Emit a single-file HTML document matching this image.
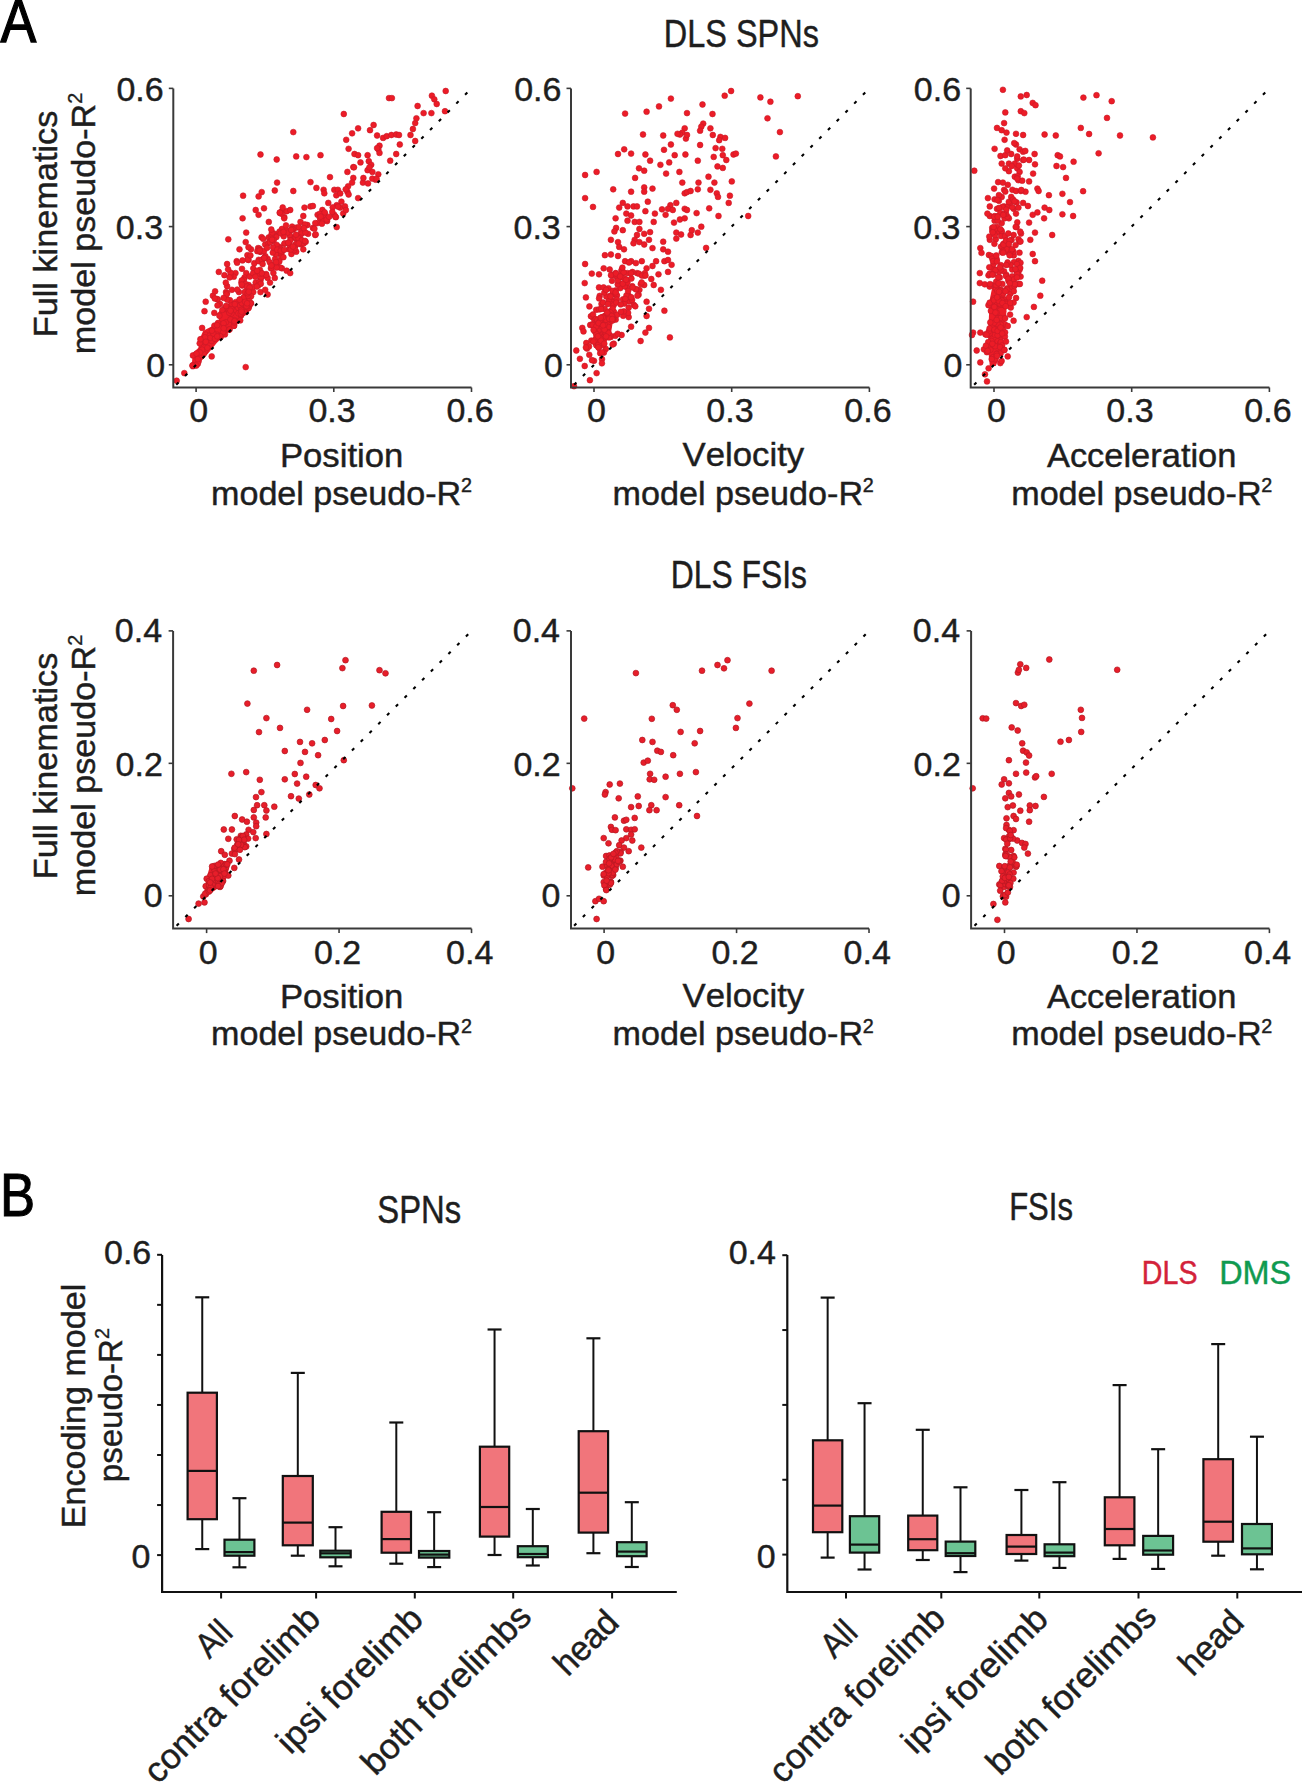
<!DOCTYPE html>
<html><head><meta charset="utf-8"><style>
html,body{margin:0;padding:0;background:#fff;overflow:hidden}
svg{display:block}
text{font-family:"Liberation Sans",sans-serif;font-kerning:none;white-space:pre}
</style></head><body>
<svg width="1302" height="1786" viewBox="0 0 1302 1786">
<rect width="1302" height="1786" fill="#fff"/>
<text x="0.50" y="41.80" font-size="61" textLength="35.81" lengthAdjust="spacingAndGlyphs" fill="#000" stroke="#000" stroke-width="1.3">A</text>
<text x="663.74" y="46.80" font-size="38.5" textLength="155.14" lengthAdjust="spacingAndGlyphs" fill="#1e1e1e" stroke="#1e1e1e" stroke-width="0.45">DLS SPNs</text>
<text x="670.69" y="587.90" font-size="38.5" textLength="136.26" lengthAdjust="spacingAndGlyphs" fill="#1e1e1e" stroke="#1e1e1e" stroke-width="0.45">DLS FSIs</text>
<text x="-0.02" y="1215.60" font-size="61" textLength="35.09" lengthAdjust="spacingAndGlyphs" fill="#000" stroke="#000" stroke-width="1.1">B</text>
<text x="377.31" y="1223.00" font-size="38.5" textLength="83.88" lengthAdjust="spacingAndGlyphs" fill="#1e1e1e" stroke="#1e1e1e" stroke-width="0.45">SPNs</text>
<text x="1009.15" y="1219.60" font-size="38.5" textLength="63.87" lengthAdjust="spacingAndGlyphs" fill="#1e1e1e" stroke="#1e1e1e" stroke-width="0.45">FSIs</text>
<g fill="#ec1c27" stroke="#c81a27" stroke-width="0.6">
<path d="M191.5 369.5 L192.7 352.9 L198.3 348.0 L200.1 338.1 L203.2 330.8 L210.6 327.1 L219.2 321.6 L217.3 313.6 L221.6 308.6 L227.8 303.7 L233.9 301.3 L242.5 296.4 L248.6 298.8 L253.6 303.7 L251.1 309.9 L243.7 316.0 L238.8 323.4 L231.4 328.3 L224.1 335.7 L216.7 343.1 L210.6 350.4 L204.4 357.8 L198.3 364.0Z" stroke="none"/>
<circle cx="445.7" cy="91.0" r="2.9"/>
<circle cx="431.9" cy="95.7" r="2.9"/>
<circle cx="434.3" cy="99.3" r="2.9"/>
<circle cx="436.7" cy="104.0" r="2.9"/>
<circle cx="389.0" cy="98.1" r="2.9"/>
<circle cx="391.9" cy="98.1" r="2.9"/>
<circle cx="417.6" cy="106.0" r="2.9"/>
<circle cx="423.6" cy="113.1" r="2.9"/>
<circle cx="431.4" cy="113.1" r="2.9"/>
<circle cx="445.0" cy="111.2" r="2.9"/>
<circle cx="343.8" cy="114.0" r="2.9"/>
<circle cx="373.6" cy="125.0" r="2.9"/>
<circle cx="370.0" cy="130.2" r="2.9"/>
<circle cx="358.1" cy="128.3" r="2.9"/>
<circle cx="352.1" cy="133.3" r="2.9"/>
<circle cx="346.2" cy="139.8" r="2.9"/>
<circle cx="377.1" cy="135.5" r="2.9"/>
<circle cx="383.1" cy="137.9" r="2.9"/>
<circle cx="386.7" cy="136.2" r="2.9"/>
<circle cx="391.4" cy="135.0" r="2.9"/>
<circle cx="396.2" cy="134.5" r="2.9"/>
<circle cx="399.0" cy="135.0" r="2.9"/>
<circle cx="410.5" cy="135.0" r="2.9"/>
<circle cx="412.9" cy="129.0" r="2.9"/>
<circle cx="415.2" cy="123.1" r="2.9"/>
<circle cx="416.4" cy="118.3" r="2.9"/>
<circle cx="415.2" cy="141.0" r="2.9"/>
<circle cx="399.8" cy="144.5" r="2.9"/>
<circle cx="396.2" cy="154.0" r="2.9"/>
<circle cx="390.2" cy="160.7" r="2.9"/>
<circle cx="379.5" cy="145.7" r="2.9"/>
<circle cx="378.3" cy="149.3" r="2.9"/>
<circle cx="379.5" cy="152.9" r="2.9"/>
<circle cx="377.1" cy="148.1" r="2.9"/>
<circle cx="348.6" cy="148.8" r="2.9"/>
<circle cx="354.5" cy="154.0" r="2.9"/>
<circle cx="358.1" cy="155.2" r="2.9"/>
<circle cx="367.6" cy="155.2" r="2.9"/>
<circle cx="368.8" cy="161.2" r="2.9"/>
<circle cx="360.5" cy="162.4" r="2.9"/>
<circle cx="293.3" cy="132.1" r="2.9"/>
<circle cx="260.5" cy="154.5" r="2.9"/>
<circle cx="276.7" cy="159.5" r="2.9"/>
<circle cx="296.2" cy="156.4" r="2.9"/>
<circle cx="306.4" cy="157.1" r="2.9"/>
<circle cx="320.5" cy="155.2" r="2.9"/>
<circle cx="353.3" cy="167.1" r="2.9"/>
<circle cx="347.4" cy="171.9" r="2.9"/>
<circle cx="371.2" cy="164.8" r="2.9"/>
<circle cx="367.6" cy="170.2" r="2.9"/>
<circle cx="372.4" cy="171.9" r="2.9"/>
<circle cx="378.3" cy="174.3" r="2.9"/>
<circle cx="353.3" cy="177.9" r="2.9"/>
<circle cx="352.1" cy="182.6" r="2.9"/>
<circle cx="362.9" cy="182.6" r="2.9"/>
<circle cx="330.0" cy="177.1" r="2.9"/>
<circle cx="310.5" cy="182.1" r="2.9"/>
<circle cx="316.4" cy="187.9" r="2.9"/>
<circle cx="323.6" cy="189.8" r="2.9"/>
<circle cx="324.3" cy="193.3" r="2.9"/>
<circle cx="334.3" cy="189.8" r="2.9"/>
<circle cx="337.9" cy="189.8" r="2.9"/>
<circle cx="347.4" cy="191.7" r="2.9"/>
<circle cx="348.6" cy="194.5" r="2.9"/>
<circle cx="358.1" cy="198.1" r="2.9"/>
<circle cx="277.1" cy="182.6" r="2.9"/>
<circle cx="274.8" cy="190.5" r="2.9"/>
<circle cx="293.3" cy="191.0" r="2.9"/>
<circle cx="261.7" cy="192.1" r="2.9"/>
<circle cx="258.6" cy="196.4" r="2.9"/>
<circle cx="243.1" cy="195.7" r="2.9"/>
<circle cx="341.4" cy="201.7" r="2.9"/>
<circle cx="340.2" cy="207.6" r="2.9"/>
<circle cx="334.3" cy="214.8" r="2.9"/>
<circle cx="328.3" cy="202.9" r="2.9"/>
<circle cx="322.4" cy="210.0" r="2.9"/>
<circle cx="336.7" cy="205.2" r="2.9"/>
<circle cx="345.0" cy="206.4" r="2.9"/>
<circle cx="255.7" cy="210.0" r="2.9"/>
<circle cx="258.6" cy="214.8" r="2.9"/>
<circle cx="264.0" cy="208.3" r="2.9"/>
<circle cx="242.6" cy="218.3" r="2.9"/>
<circle cx="281.9" cy="211.2" r="2.9"/>
<circle cx="286.7" cy="211.2" r="2.9"/>
<circle cx="290.2" cy="210.0" r="2.9"/>
<circle cx="284.3" cy="217.1" r="2.9"/>
<circle cx="304.5" cy="207.6" r="2.9"/>
<circle cx="310.5" cy="206.4" r="2.9"/>
<circle cx="312.9" cy="206.0" r="2.9"/>
<circle cx="300.5" cy="221.9" r="2.9"/>
<circle cx="303.3" cy="216.0" r="2.9"/>
<circle cx="268.8" cy="221.9" r="2.9"/>
<circle cx="317.6" cy="214.8" r="2.9"/>
<circle cx="320.0" cy="218.3" r="2.9"/>
<circle cx="317.6" cy="223.1" r="2.9"/>
<circle cx="323.6" cy="220.7" r="2.9"/>
<circle cx="324.8" cy="213.6" r="2.9"/>
<circle cx="336.7" cy="227.1" r="2.9"/>
<circle cx="312.9" cy="227.9" r="2.9"/>
<circle cx="315.2" cy="235.0" r="2.9"/>
<circle cx="308.1" cy="233.8" r="2.9"/>
<circle cx="298.6" cy="236.2" r="2.9"/>
<circle cx="293.8" cy="237.4" r="2.9"/>
<circle cx="289.0" cy="232.6" r="2.9"/>
<circle cx="281.9" cy="229.0" r="2.9"/>
<circle cx="286.7" cy="230.2" r="2.9"/>
<circle cx="246.2" cy="232.6" r="2.9"/>
<circle cx="245.7" cy="242.1" r="2.9"/>
<circle cx="228.3" cy="239.3" r="2.9"/>
<circle cx="274.8" cy="233.8" r="2.9"/>
<circle cx="268.8" cy="237.4" r="2.9"/>
<circle cx="272.4" cy="241.0" r="2.9"/>
<circle cx="265.2" cy="244.5" r="2.9"/>
<circle cx="258.1" cy="248.1" r="2.9"/>
<circle cx="251.0" cy="249.3" r="2.9"/>
<circle cx="239.5" cy="249.3" r="2.9"/>
<circle cx="247.4" cy="255.2" r="2.9"/>
<circle cx="260.5" cy="251.7" r="2.9"/>
<circle cx="279.5" cy="246.9" r="2.9"/>
<circle cx="281.9" cy="251.7" r="2.9"/>
<circle cx="289.0" cy="249.3" r="2.9"/>
<circle cx="291.4" cy="254.0" r="2.9"/>
<circle cx="296.2" cy="251.7" r="2.9"/>
<circle cx="302.1" cy="242.1" r="2.9"/>
<circle cx="303.3" cy="249.3" r="2.9"/>
<circle cx="227.1" cy="264.0" r="2.9"/>
<circle cx="236.7" cy="261.2" r="2.9"/>
<circle cx="218.8" cy="271.9" r="2.9"/>
<circle cx="235.5" cy="273.1" r="2.9"/>
<circle cx="233.8" cy="276.7" r="2.9"/>
<circle cx="246.2" cy="273.1" r="2.9"/>
<circle cx="253.3" cy="268.3" r="2.9"/>
<circle cx="260.5" cy="261.2" r="2.9"/>
<circle cx="267.6" cy="258.8" r="2.9"/>
<circle cx="272.4" cy="266.0" r="2.9"/>
<circle cx="277.1" cy="266.0" r="2.9"/>
<circle cx="281.9" cy="268.3" r="2.9"/>
<circle cx="286.7" cy="270.7" r="2.9"/>
<circle cx="290.2" cy="273.1" r="2.9"/>
<circle cx="264.0" cy="275.5" r="2.9"/>
<circle cx="267.6" cy="277.9" r="2.9"/>
<circle cx="270.0" cy="282.6" r="2.9"/>
<circle cx="274.8" cy="277.9" r="2.9"/>
<circle cx="260.5" cy="280.2" r="2.9"/>
<circle cx="255.7" cy="282.6" r="2.9"/>
<circle cx="248.6" cy="285.0" r="2.9"/>
<circle cx="241.4" cy="282.6" r="2.9"/>
<circle cx="227.1" cy="286.2" r="2.9"/>
<circle cx="226.0" cy="292.1" r="2.9"/>
<circle cx="231.9" cy="289.8" r="2.9"/>
<circle cx="239.0" cy="292.1" r="2.9"/>
<circle cx="246.2" cy="294.5" r="2.9"/>
<circle cx="253.3" cy="292.1" r="2.9"/>
<circle cx="260.5" cy="292.1" r="2.9"/>
<circle cx="265.2" cy="289.8" r="2.9"/>
<circle cx="267.6" cy="294.5" r="2.9"/>
<circle cx="212.9" cy="295.7" r="2.9"/>
<circle cx="217.6" cy="299.3" r="2.9"/>
<circle cx="205.7" cy="301.7" r="2.9"/>
<circle cx="204.5" cy="311.2" r="2.9"/>
<circle cx="220.0" cy="304.0" r="2.9"/>
<circle cx="245.7" cy="367.1" r="2.9"/>
<circle cx="184.3" cy="373.1" r="2.9"/>
<circle cx="176.7" cy="380.7" r="2.9"/>
<circle cx="202.1" cy="327.9" r="2.9"/>
<circle cx="211.7" cy="356.4" r="2.9"/>
<circle cx="198.6" cy="361.2" r="2.9"/>
<circle cx="226.6" cy="308.2" r="2.9"/>
<circle cx="226.4" cy="309.1" r="2.9"/>
<circle cx="225.9" cy="322.3" r="2.9"/>
<circle cx="251.0" cy="303.1" r="2.9"/>
<circle cx="236.1" cy="310.3" r="2.9"/>
<circle cx="205.9" cy="334.7" r="2.9"/>
<circle cx="241.6" cy="313.4" r="2.9"/>
<circle cx="245.7" cy="312.2" r="2.9"/>
<circle cx="203.0" cy="339.4" r="2.9"/>
<circle cx="225.0" cy="307.9" r="2.9"/>
<circle cx="235.7" cy="302.1" r="2.9"/>
<circle cx="211.7" cy="341.0" r="2.9"/>
<circle cx="204.0" cy="352.6" r="2.9"/>
<circle cx="224.9" cy="334.4" r="2.9"/>
<circle cx="222.3" cy="309.9" r="2.9"/>
<circle cx="234.5" cy="320.2" r="2.9"/>
<circle cx="203.6" cy="341.8" r="2.9"/>
<circle cx="209.7" cy="335.7" r="2.9"/>
<circle cx="241.1" cy="315.4" r="2.9"/>
<circle cx="218.0" cy="323.0" r="2.9"/>
<circle cx="234.1" cy="325.8" r="2.9"/>
<circle cx="219.4" cy="315.7" r="2.9"/>
<circle cx="228.9" cy="310.1" r="2.9"/>
<circle cx="240.2" cy="299.4" r="2.9"/>
<circle cx="242.3" cy="313.4" r="2.9"/>
<circle cx="204.3" cy="338.1" r="2.9"/>
<circle cx="217.0" cy="334.7" r="2.9"/>
<circle cx="239.8" cy="307.5" r="2.9"/>
<circle cx="240.0" cy="308.4" r="2.9"/>
<circle cx="250.6" cy="303.4" r="2.9"/>
<circle cx="205.3" cy="350.9" r="2.9"/>
<circle cx="201.6" cy="339.4" r="2.9"/>
<circle cx="201.4" cy="349.9" r="2.9"/>
<circle cx="244.2" cy="297.5" r="2.9"/>
<circle cx="203.6" cy="353.7" r="2.9"/>
<circle cx="214.4" cy="325.6" r="2.9"/>
<circle cx="210.4" cy="337.8" r="2.9"/>
<circle cx="202.1" cy="349.7" r="2.9"/>
<circle cx="193.0" cy="365.1" r="2.9"/>
<circle cx="204.0" cy="342.1" r="2.9"/>
<circle cx="204.9" cy="337.4" r="2.9"/>
<circle cx="240.8" cy="314.8" r="2.9"/>
<circle cx="240.2" cy="320.4" r="2.9"/>
<circle cx="233.9" cy="325.8" r="2.9"/>
<circle cx="248.4" cy="308.0" r="2.9"/>
<circle cx="217.1" cy="325.1" r="2.9"/>
<circle cx="205.8" cy="341.8" r="2.9"/>
<circle cx="238.1" cy="307.8" r="2.9"/>
<circle cx="230.5" cy="319.5" r="2.9"/>
<circle cx="228.8" cy="329.9" r="2.9"/>
<circle cx="200.0" cy="352.5" r="2.9"/>
<circle cx="241.0" cy="306.1" r="2.9"/>
<circle cx="238.4" cy="313.3" r="2.9"/>
<circle cx="223.1" cy="332.3" r="2.9"/>
<circle cx="240.0" cy="305.5" r="2.9"/>
<circle cx="231.4" cy="313.6" r="2.9"/>
<circle cx="249.0" cy="299.8" r="2.9"/>
<circle cx="240.7" cy="313.5" r="2.9"/>
<circle cx="215.0" cy="338.8" r="2.9"/>
<circle cx="193.0" cy="366.2" r="2.9"/>
<circle cx="192.9" cy="355.4" r="2.9"/>
<circle cx="220.8" cy="336.8" r="2.9"/>
<circle cx="226.1" cy="306.0" r="2.9"/>
<circle cx="247.4" cy="306.4" r="2.9"/>
<circle cx="207.4" cy="347.8" r="2.9"/>
<circle cx="223.6" cy="323.3" r="2.9"/>
<circle cx="197.8" cy="363.8" r="2.9"/>
<circle cx="231.3" cy="308.8" r="2.9"/>
<circle cx="241.4" cy="309.9" r="2.9"/>
<circle cx="229.6" cy="329.4" r="2.9"/>
<circle cx="213.3" cy="333.5" r="2.9"/>
<circle cx="196.3" cy="365.6" r="2.9"/>
<circle cx="241.5" cy="311.7" r="2.9"/>
<circle cx="199.7" cy="343.3" r="2.9"/>
<circle cx="242.9" cy="303.9" r="2.9"/>
<circle cx="192.4" cy="365.6" r="2.9"/>
<circle cx="243.8" cy="297.3" r="2.9"/>
<circle cx="229.3" cy="312.8" r="2.9"/>
<circle cx="231.7" cy="303.7" r="2.9"/>
<circle cx="211.9" cy="330.7" r="2.9"/>
<circle cx="234.1" cy="322.5" r="2.9"/>
<circle cx="220.2" cy="336.3" r="2.9"/>
<circle cx="223.7" cy="328.2" r="2.9"/>
<circle cx="217.2" cy="336.4" r="2.9"/>
<circle cx="196.5" cy="353.6" r="2.9"/>
<circle cx="234.5" cy="321.2" r="2.9"/>
<circle cx="197.8" cy="359.1" r="2.9"/>
<circle cx="250.5" cy="303.5" r="2.9"/>
<circle cx="200.4" cy="339.2" r="2.9"/>
<circle cx="230.5" cy="310.7" r="2.9"/>
<circle cx="249.9" cy="287.7" r="2.9"/>
<circle cx="276.2" cy="246.8" r="2.9"/>
<circle cx="278.4" cy="252.6" r="2.9"/>
<circle cx="244.5" cy="277.5" r="2.9"/>
<circle cx="258.7" cy="259.8" r="2.9"/>
<circle cx="281.1" cy="254.3" r="2.9"/>
<circle cx="262.6" cy="259.3" r="2.9"/>
<circle cx="280.3" cy="267.6" r="2.9"/>
<circle cx="259.5" cy="282.0" r="2.9"/>
<circle cx="270.9" cy="268.3" r="2.9"/>
<circle cx="254.3" cy="263.2" r="2.9"/>
<circle cx="261.2" cy="277.4" r="2.9"/>
<circle cx="271.7" cy="268.0" r="2.9"/>
<circle cx="258.4" cy="285.2" r="2.9"/>
<circle cx="276.6" cy="267.5" r="2.9"/>
<circle cx="249.9" cy="276.5" r="2.9"/>
<circle cx="301.2" cy="244.4" r="2.9"/>
<circle cx="247.3" cy="289.4" r="2.9"/>
<circle cx="273.4" cy="273.0" r="2.9"/>
<circle cx="295.4" cy="245.8" r="2.9"/>
<circle cx="296.5" cy="237.9" r="2.9"/>
<circle cx="290.5" cy="237.4" r="2.9"/>
<circle cx="296.7" cy="239.0" r="2.9"/>
<circle cx="275.1" cy="258.9" r="2.9"/>
<circle cx="297.9" cy="242.5" r="2.9"/>
<circle cx="281.1" cy="257.6" r="2.9"/>
<circle cx="258.6" cy="261.2" r="2.9"/>
<circle cx="261.9" cy="259.9" r="2.9"/>
<circle cx="275.9" cy="254.1" r="2.9"/>
<circle cx="295.6" cy="244.6" r="2.9"/>
<circle cx="295.6" cy="237.6" r="2.9"/>
<circle cx="283.4" cy="257.2" r="2.9"/>
<circle cx="262.6" cy="264.1" r="2.9"/>
<circle cx="294.3" cy="250.1" r="2.9"/>
<circle cx="243.9" cy="279.7" r="2.9"/>
<circle cx="241.8" cy="280.4" r="2.9"/>
<circle cx="253.1" cy="273.3" r="2.9"/>
<circle cx="252.9" cy="287.2" r="2.9"/>
<circle cx="291.4" cy="248.3" r="2.9"/>
<circle cx="242.3" cy="285.6" r="2.9"/>
<circle cx="294.7" cy="248.1" r="2.9"/>
<circle cx="245.4" cy="283.9" r="2.9"/>
<circle cx="280.3" cy="248.7" r="2.9"/>
<circle cx="272.8" cy="252.6" r="2.9"/>
<circle cx="247.0" cy="286.4" r="2.9"/>
<circle cx="289.7" cy="235.0" r="2.9"/>
<circle cx="268.4" cy="243.0" r="2.9"/>
<circle cx="276.6" cy="244.8" r="2.9"/>
<circle cx="273.1" cy="247.5" r="2.9"/>
<circle cx="292.1" cy="226.6" r="2.9"/>
<circle cx="283.1" cy="233.6" r="2.9"/>
<circle cx="287.5" cy="232.6" r="2.9"/>
<circle cx="275.0" cy="235.9" r="2.9"/>
<circle cx="276.4" cy="237.0" r="2.9"/>
<circle cx="259.8" cy="251.3" r="2.9"/>
<circle cx="271.1" cy="237.3" r="2.9"/>
<circle cx="293.2" cy="229.4" r="2.9"/>
<circle cx="279.5" cy="231.6" r="2.9"/>
<circle cx="286.0" cy="225.4" r="2.9"/>
<circle cx="296.4" cy="227.6" r="2.9"/>
<circle cx="298.9" cy="227.1" r="2.9"/>
<circle cx="260.3" cy="251.6" r="2.9"/>
<circle cx="270.0" cy="242.3" r="2.9"/>
<circle cx="266.1" cy="274.1" r="2.9"/>
<circle cx="284.4" cy="243.8" r="2.9"/>
<circle cx="290.4" cy="240.3" r="2.9"/>
<circle cx="260.8" cy="283.8" r="2.9"/>
<circle cx="241.9" cy="303.1" r="2.9"/>
<circle cx="271.8" cy="264.8" r="2.9"/>
<circle cx="279.3" cy="261.6" r="2.9"/>
<circle cx="277.2" cy="249.7" r="2.9"/>
<circle cx="290.0" cy="245.4" r="2.9"/>
<circle cx="229.9" cy="300.2" r="2.9"/>
<circle cx="251.1" cy="296.2" r="2.9"/>
<circle cx="284.7" cy="243.3" r="2.9"/>
<circle cx="301.1" cy="231.8" r="2.9"/>
<circle cx="283.7" cy="236.3" r="2.9"/>
<circle cx="266.2" cy="274.8" r="2.9"/>
<circle cx="264.7" cy="257.5" r="2.9"/>
<circle cx="239.5" cy="299.6" r="2.9"/>
<circle cx="269.8" cy="262.3" r="2.9"/>
<circle cx="292.5" cy="229.2" r="2.9"/>
<circle cx="276.1" cy="262.1" r="2.9"/>
<circle cx="248.2" cy="295.7" r="2.9"/>
<circle cx="237.2" cy="289.6" r="2.9"/>
<circle cx="241.8" cy="284.6" r="2.9"/>
<circle cx="261.4" cy="273.3" r="2.9"/>
<circle cx="258.9" cy="273.6" r="2.9"/>
<circle cx="255.4" cy="276.8" r="2.9"/>
<circle cx="244.8" cy="292.0" r="2.9"/>
<circle cx="245.2" cy="301.8" r="2.9"/>
<circle cx="301.7" cy="233.5" r="2.9"/>
<circle cx="247.7" cy="293.2" r="2.9"/>
<circle cx="296.4" cy="243.9" r="2.9"/>
<circle cx="234.8" cy="304.2" r="2.9"/>
<circle cx="259.9" cy="269.9" r="2.9"/>
<circle cx="246.5" cy="306.1" r="2.9"/>
<circle cx="288.2" cy="242.7" r="2.9"/>
<circle cx="261.8" cy="273.2" r="2.9"/>
<circle cx="257.1" cy="270.8" r="2.9"/>
<circle cx="271.4" cy="265.5" r="2.9"/>
<circle cx="249.6" cy="287.6" r="2.9"/>
<circle cx="265.3" cy="256.1" r="2.9"/>
<circle cx="256.9" cy="286.6" r="2.9"/>
<circle cx="264.2" cy="257.9" r="2.9"/>
<circle cx="248.7" cy="291.8" r="2.9"/>
<circle cx="280.7" cy="250.7" r="2.9"/>
<circle cx="247.1" cy="303.3" r="2.9"/>
<circle cx="248.6" cy="260.0" r="2.9"/>
<circle cx="242.0" cy="268.8" r="2.9"/>
<circle cx="217.4" cy="299.2" r="2.9"/>
<circle cx="273.7" cy="240.0" r="2.9"/>
<circle cx="214.8" cy="298.5" r="2.9"/>
<circle cx="215.1" cy="291.3" r="2.9"/>
<circle cx="214.3" cy="312.9" r="2.9"/>
<circle cx="230.5" cy="276.1" r="2.9"/>
<circle cx="271.6" cy="234.2" r="2.9"/>
<circle cx="227.0" cy="293.2" r="2.9"/>
<circle cx="230.5" cy="272.7" r="2.9"/>
<circle cx="261.6" cy="237.2" r="2.9"/>
<circle cx="227.2" cy="299.7" r="2.9"/>
<circle cx="248.5" cy="247.2" r="2.9"/>
<circle cx="263.2" cy="238.8" r="2.9"/>
<circle cx="259.5" cy="248.6" r="2.9"/>
<circle cx="224.4" cy="275.2" r="2.9"/>
<circle cx="260.3" cy="250.2" r="2.9"/>
<circle cx="257.3" cy="251.2" r="2.9"/>
<circle cx="263.9" cy="251.2" r="2.9"/>
<circle cx="217.5" cy="305.4" r="2.9"/>
<circle cx="272.0" cy="239.8" r="2.9"/>
<circle cx="225.8" cy="282.7" r="2.9"/>
<circle cx="228.1" cy="269.3" r="2.9"/>
<circle cx="247.6" cy="259.5" r="2.9"/>
<circle cx="242.5" cy="260.4" r="2.9"/>
<circle cx="259.6" cy="250.6" r="2.9"/>
<circle cx="272.2" cy="232.6" r="2.9"/>
<circle cx="250.4" cy="255.4" r="2.9"/>
<circle cx="226.5" cy="294.5" r="2.9"/>
<circle cx="271.3" cy="229.5" r="2.9"/>
<circle cx="237.1" cy="262.7" r="2.9"/>
<circle cx="223.6" cy="297.9" r="2.9"/>
<circle cx="267.1" cy="247.8" r="2.9"/>
<circle cx="229.6" cy="277.4" r="2.9"/>
<circle cx="323.4" cy="215.3" r="2.9"/>
<circle cx="327.1" cy="221.1" r="2.9"/>
<circle cx="321.9" cy="223.7" r="2.9"/>
<circle cx="319.8" cy="213.8" r="2.9"/>
<circle cx="315.3" cy="223.1" r="2.9"/>
<circle cx="324.7" cy="212.4" r="2.9"/>
<circle cx="326.7" cy="219.6" r="2.9"/>
<circle cx="320.7" cy="216.6" r="2.9"/>
<circle cx="329.1" cy="216.8" r="2.9"/>
<circle cx="332.7" cy="207.3" r="2.9"/>
<circle cx="335.9" cy="217.2" r="2.9"/>
<circle cx="338.0" cy="206.6" r="2.9"/>
<circle cx="343.2" cy="213.5" r="2.9"/>
<circle cx="332.3" cy="211.9" r="2.9"/>
<circle cx="345.9" cy="210.0" r="2.9"/>
<circle cx="335.4" cy="216.7" r="2.9"/>
<circle cx="279.8" cy="212.9" r="2.9"/>
<circle cx="281.6" cy="213.8" r="2.9"/>
<circle cx="284.2" cy="218.3" r="2.9"/>
<circle cx="279.9" cy="212.5" r="2.9"/>
<circle cx="282.7" cy="207.5" r="2.9"/>
<circle cx="315.7" cy="234.4" r="2.9"/>
<circle cx="305.4" cy="232.5" r="2.9"/>
<circle cx="307.4" cy="225.0" r="2.9"/>
<circle cx="304.9" cy="224.5" r="2.9"/>
<circle cx="300.1" cy="237.6" r="2.9"/>
<circle cx="314.4" cy="228.7" r="2.9"/>
<circle cx="298.4" cy="238.1" r="2.9"/>
<circle cx="280.8" cy="233.3" r="2.9"/>
<circle cx="301.9" cy="243.2" r="2.9"/>
<circle cx="290.8" cy="249.4" r="2.9"/>
<circle cx="303.8" cy="243.3" r="2.9"/>
<circle cx="303.9" cy="228.1" r="2.9"/>
<circle cx="293.0" cy="246.6" r="2.9"/>
<circle cx="301.8" cy="240.3" r="2.9"/>
<circle cx="296.0" cy="234.7" r="2.9"/>
<circle cx="298.7" cy="243.4" r="2.9"/>
<circle cx="305.7" cy="241.8" r="2.9"/>
<circle cx="284.2" cy="249.8" r="2.9"/>
<circle cx="291.2" cy="229.9" r="2.9"/>
<circle cx="305.0" cy="240.9" r="2.9"/>
<circle cx="283.5" cy="232.0" r="2.9"/>
<circle cx="336.3" cy="195.3" r="2.9"/>
<circle cx="348.1" cy="186.3" r="2.9"/>
<circle cx="345.7" cy="189.3" r="2.9"/>
<circle cx="340.2" cy="193.4" r="2.9"/>
<circle cx="354.0" cy="167.3" r="2.9"/>
<circle cx="375.6" cy="179.7" r="2.9"/>
<circle cx="372.3" cy="178.6" r="2.9"/>
<circle cx="376.6" cy="178.9" r="2.9"/>
<circle cx="369.4" cy="167.3" r="2.9"/>
<circle cx="368.0" cy="183.4" r="2.9"/>
<circle cx="363.4" cy="178.0" r="2.9"/>
</g>
<g fill="#ec1c27" stroke="#c81a27" stroke-width="0.6">
<path d="M593.0 344.5 L593.7 325.5 L600.1 314.8 L609.7 310.0 L613.2 319.5 L610.9 333.8 L604.9 344.5 L597.8 351.7Z" stroke="none"/>
<circle cx="731.1" cy="91.0" r="2.9"/>
<circle cx="724.7" cy="95.7" r="2.9"/>
<circle cx="670.9" cy="98.6" r="2.9"/>
<circle cx="760.4" cy="97.4" r="2.9"/>
<circle cx="770.4" cy="101.7" r="2.9"/>
<circle cx="797.8" cy="96.2" r="2.9"/>
<circle cx="702.5" cy="104.5" r="2.9"/>
<circle cx="659.0" cy="106.4" r="2.9"/>
<circle cx="646.6" cy="111.7" r="2.9"/>
<circle cx="625.1" cy="113.6" r="2.9"/>
<circle cx="687.0" cy="113.1" r="2.9"/>
<circle cx="712.5" cy="114.0" r="2.9"/>
<circle cx="767.5" cy="118.3" r="2.9"/>
<circle cx="779.9" cy="132.1" r="2.9"/>
<circle cx="775.9" cy="156.4" r="2.9"/>
<circle cx="703.2" cy="123.6" r="2.9"/>
<circle cx="701.3" cy="126.7" r="2.9"/>
<circle cx="700.1" cy="130.7" r="2.9"/>
<circle cx="710.4" cy="128.3" r="2.9"/>
<circle cx="712.8" cy="135.0" r="2.9"/>
<circle cx="720.4" cy="136.9" r="2.9"/>
<circle cx="725.1" cy="137.9" r="2.9"/>
<circle cx="719.2" cy="140.2" r="2.9"/>
<circle cx="684.7" cy="128.3" r="2.9"/>
<circle cx="682.3" cy="132.6" r="2.9"/>
<circle cx="679.9" cy="134.5" r="2.9"/>
<circle cx="677.5" cy="133.8" r="2.9"/>
<circle cx="685.9" cy="138.6" r="2.9"/>
<circle cx="687.0" cy="135.0" r="2.9"/>
<circle cx="643.0" cy="134.5" r="2.9"/>
<circle cx="663.2" cy="135.5" r="2.9"/>
<circle cx="700.1" cy="145.0" r="2.9"/>
<circle cx="670.9" cy="144.5" r="2.9"/>
<circle cx="664.0" cy="149.8" r="2.9"/>
<circle cx="674.7" cy="155.2" r="2.9"/>
<circle cx="685.4" cy="154.5" r="2.9"/>
<circle cx="697.8" cy="160.7" r="2.9"/>
<circle cx="715.6" cy="148.1" r="2.9"/>
<circle cx="722.3" cy="148.8" r="2.9"/>
<circle cx="713.7" cy="156.9" r="2.9"/>
<circle cx="722.8" cy="155.2" r="2.9"/>
<circle cx="726.3" cy="160.0" r="2.9"/>
<circle cx="733.5" cy="154.5" r="2.9"/>
<circle cx="735.9" cy="153.6" r="2.9"/>
<circle cx="717.5" cy="166.4" r="2.9"/>
<circle cx="722.8" cy="167.9" r="2.9"/>
<circle cx="624.2" cy="149.3" r="2.9"/>
<circle cx="618.0" cy="154.0" r="2.9"/>
<circle cx="631.1" cy="153.6" r="2.9"/>
<circle cx="645.4" cy="154.5" r="2.9"/>
<circle cx="650.1" cy="160.7" r="2.9"/>
<circle cx="660.4" cy="164.8" r="2.9"/>
<circle cx="669.2" cy="162.4" r="2.9"/>
<circle cx="666.1" cy="173.6" r="2.9"/>
<circle cx="679.4" cy="171.9" r="2.9"/>
<circle cx="639.0" cy="168.3" r="2.9"/>
<circle cx="644.2" cy="170.7" r="2.9"/>
<circle cx="635.1" cy="177.9" r="2.9"/>
<circle cx="596.6" cy="171.9" r="2.9"/>
<circle cx="585.1" cy="175.0" r="2.9"/>
<circle cx="708.5" cy="176.7" r="2.9"/>
<circle cx="714.4" cy="182.6" r="2.9"/>
<circle cx="698.5" cy="182.6" r="2.9"/>
<circle cx="731.8" cy="181.4" r="2.9"/>
<circle cx="682.3" cy="182.6" r="2.9"/>
<circle cx="644.2" cy="187.4" r="2.9"/>
<circle cx="652.5" cy="188.6" r="2.9"/>
<circle cx="613.2" cy="189.3" r="2.9"/>
<circle cx="631.1" cy="191.7" r="2.9"/>
<circle cx="644.2" cy="191.7" r="2.9"/>
<circle cx="684.7" cy="193.3" r="2.9"/>
<circle cx="687.0" cy="192.1" r="2.9"/>
<circle cx="690.6" cy="191.0" r="2.9"/>
<circle cx="697.8" cy="189.3" r="2.9"/>
<circle cx="710.4" cy="189.8" r="2.9"/>
<circle cx="716.8" cy="193.3" r="2.9"/>
<circle cx="718.0" cy="196.9" r="2.9"/>
<circle cx="729.9" cy="195.7" r="2.9"/>
<circle cx="728.7" cy="202.9" r="2.9"/>
<circle cx="585.1" cy="198.1" r="2.9"/>
<circle cx="593.0" cy="206.9" r="2.9"/>
<circle cx="647.8" cy="201.7" r="2.9"/>
<circle cx="676.3" cy="202.9" r="2.9"/>
<circle cx="670.4" cy="205.2" r="2.9"/>
<circle cx="662.0" cy="209.3" r="2.9"/>
<circle cx="668.0" cy="208.8" r="2.9"/>
<circle cx="665.6" cy="214.8" r="2.9"/>
<circle cx="672.8" cy="210.0" r="2.9"/>
<circle cx="684.7" cy="208.8" r="2.9"/>
<circle cx="687.0" cy="210.0" r="2.9"/>
<circle cx="696.6" cy="213.1" r="2.9"/>
<circle cx="709.2" cy="208.3" r="2.9"/>
<circle cx="718.5" cy="216.0" r="2.9"/>
<circle cx="748.2" cy="216.0" r="2.9"/>
<circle cx="622.8" cy="202.9" r="2.9"/>
<circle cx="619.2" cy="207.6" r="2.9"/>
<circle cx="627.5" cy="206.4" r="2.9"/>
<circle cx="633.5" cy="206.4" r="2.9"/>
<circle cx="637.0" cy="206.4" r="2.9"/>
<circle cx="626.3" cy="213.6" r="2.9"/>
<circle cx="631.1" cy="215.5" r="2.9"/>
<circle cx="627.5" cy="220.7" r="2.9"/>
<circle cx="634.7" cy="221.9" r="2.9"/>
<circle cx="639.4" cy="221.9" r="2.9"/>
<circle cx="645.4" cy="211.2" r="2.9"/>
<circle cx="654.9" cy="213.6" r="2.9"/>
<circle cx="653.7" cy="221.9" r="2.9"/>
<circle cx="615.6" cy="218.3" r="2.9"/>
<circle cx="674.0" cy="222.6" r="2.9"/>
<circle cx="679.9" cy="219.5" r="2.9"/>
<circle cx="684.7" cy="218.3" r="2.9"/>
<circle cx="701.3" cy="226.7" r="2.9"/>
<circle cx="697.8" cy="232.6" r="2.9"/>
<circle cx="690.6" cy="235.0" r="2.9"/>
<circle cx="691.8" cy="230.2" r="2.9"/>
<circle cx="676.3" cy="232.6" r="2.9"/>
<circle cx="681.1" cy="234.5" r="2.9"/>
<circle cx="676.3" cy="238.6" r="2.9"/>
<circle cx="616.1" cy="227.9" r="2.9"/>
<circle cx="614.4" cy="231.4" r="2.9"/>
<circle cx="622.8" cy="230.2" r="2.9"/>
<circle cx="639.4" cy="229.0" r="2.9"/>
<circle cx="637.0" cy="235.0" r="2.9"/>
<circle cx="634.7" cy="239.8" r="2.9"/>
<circle cx="644.2" cy="233.8" r="2.9"/>
<circle cx="650.1" cy="232.1" r="2.9"/>
<circle cx="610.9" cy="239.8" r="2.9"/>
<circle cx="618.0" cy="242.1" r="2.9"/>
<circle cx="619.2" cy="246.9" r="2.9"/>
<circle cx="624.0" cy="249.3" r="2.9"/>
<circle cx="633.5" cy="243.3" r="2.9"/>
<circle cx="639.4" cy="242.1" r="2.9"/>
<circle cx="644.2" cy="244.5" r="2.9"/>
<circle cx="649.0" cy="239.8" r="2.9"/>
<circle cx="652.5" cy="248.1" r="2.9"/>
<circle cx="663.2" cy="241.7" r="2.9"/>
<circle cx="663.2" cy="249.3" r="2.9"/>
<circle cx="668.0" cy="251.7" r="2.9"/>
<circle cx="706.1" cy="247.9" r="2.9"/>
<circle cx="604.9" cy="255.2" r="2.9"/>
<circle cx="610.9" cy="254.5" r="2.9"/>
<circle cx="618.0" cy="256.0" r="2.9"/>
<circle cx="625.1" cy="261.2" r="2.9"/>
<circle cx="631.1" cy="261.2" r="2.9"/>
<circle cx="635.9" cy="263.1" r="2.9"/>
<circle cx="641.8" cy="261.2" r="2.9"/>
<circle cx="646.6" cy="268.3" r="2.9"/>
<circle cx="652.5" cy="266.0" r="2.9"/>
<circle cx="656.1" cy="261.2" r="2.9"/>
<circle cx="664.4" cy="261.2" r="2.9"/>
<circle cx="668.0" cy="260.0" r="2.9"/>
<circle cx="671.6" cy="264.8" r="2.9"/>
<circle cx="668.0" cy="271.9" r="2.9"/>
<circle cx="658.5" cy="274.3" r="2.9"/>
<circle cx="585.1" cy="264.0" r="2.9"/>
<circle cx="591.8" cy="273.6" r="2.9"/>
<circle cx="599.0" cy="274.3" r="2.9"/>
<circle cx="603.7" cy="268.3" r="2.9"/>
<circle cx="609.7" cy="269.5" r="2.9"/>
<circle cx="615.6" cy="273.1" r="2.9"/>
<circle cx="621.6" cy="270.7" r="2.9"/>
<circle cx="627.5" cy="273.1" r="2.9"/>
<circle cx="637.0" cy="273.1" r="2.9"/>
<circle cx="644.2" cy="275.5" r="2.9"/>
<circle cx="651.3" cy="279.0" r="2.9"/>
<circle cx="660.9" cy="289.8" r="2.9"/>
<circle cx="584.7" cy="283.1" r="2.9"/>
<circle cx="599.0" cy="287.4" r="2.9"/>
<circle cx="625.1" cy="282.6" r="2.9"/>
<circle cx="632.3" cy="286.2" r="2.9"/>
<circle cx="639.4" cy="289.8" r="2.9"/>
<circle cx="644.2" cy="285.0" r="2.9"/>
<circle cx="653.7" cy="285.0" r="2.9"/>
<circle cx="585.9" cy="297.4" r="2.9"/>
<circle cx="589.4" cy="306.4" r="2.9"/>
<circle cx="646.6" cy="301.7" r="2.9"/>
<circle cx="649.0" cy="308.8" r="2.9"/>
<circle cx="628.7" cy="307.6" r="2.9"/>
<circle cx="664.4" cy="310.7" r="2.9"/>
<circle cx="628.7" cy="317.1" r="2.9"/>
<circle cx="646.6" cy="316.0" r="2.9"/>
<circle cx="640.6" cy="341.0" r="2.9"/>
<circle cx="669.9" cy="337.4" r="2.9"/>
<circle cx="649.0" cy="327.9" r="2.9"/>
<circle cx="645.4" cy="332.6" r="2.9"/>
<circle cx="631.1" cy="326.7" r="2.9"/>
<circle cx="621.6" cy="335.0" r="2.9"/>
<circle cx="576.3" cy="350.5" r="2.9"/>
<circle cx="582.3" cy="327.9" r="2.9"/>
<circle cx="583.5" cy="331.4" r="2.9"/>
<circle cx="579.9" cy="358.8" r="2.9"/>
<circle cx="584.7" cy="366.0" r="2.9"/>
<circle cx="596.6" cy="373.1" r="2.9"/>
<circle cx="589.9" cy="380.2" r="2.9"/>
<circle cx="574.0" cy="386.2" r="2.9"/>
<circle cx="592.7" cy="317.2" r="2.9"/>
<circle cx="613.8" cy="343.7" r="2.9"/>
<circle cx="613.2" cy="294.4" r="2.9"/>
<circle cx="589.3" cy="354.8" r="2.9"/>
<circle cx="612.3" cy="300.6" r="2.9"/>
<circle cx="596.2" cy="309.8" r="2.9"/>
<circle cx="621.5" cy="284.1" r="2.9"/>
<circle cx="621.7" cy="276.5" r="2.9"/>
<circle cx="628.5" cy="295.5" r="2.9"/>
<circle cx="626.8" cy="287.1" r="2.9"/>
<circle cx="620.3" cy="288.1" r="2.9"/>
<circle cx="610.0" cy="296.0" r="2.9"/>
<circle cx="601.5" cy="303.9" r="2.9"/>
<circle cx="636.4" cy="289.3" r="2.9"/>
<circle cx="605.8" cy="348.9" r="2.9"/>
<circle cx="587.0" cy="348.5" r="2.9"/>
<circle cx="611.8" cy="316.0" r="2.9"/>
<circle cx="612.3" cy="310.3" r="2.9"/>
<circle cx="612.3" cy="317.1" r="2.9"/>
<circle cx="612.5" cy="274.8" r="2.9"/>
<circle cx="616.3" cy="294.8" r="2.9"/>
<circle cx="615.4" cy="335.8" r="2.9"/>
<circle cx="615.8" cy="290.3" r="2.9"/>
<circle cx="607.3" cy="328.5" r="2.9"/>
<circle cx="603.3" cy="337.6" r="2.9"/>
<circle cx="605.1" cy="317.7" r="2.9"/>
<circle cx="594.3" cy="324.0" r="2.9"/>
<circle cx="607.8" cy="334.4" r="2.9"/>
<circle cx="612.9" cy="293.5" r="2.9"/>
<circle cx="633.9" cy="304.9" r="2.9"/>
<circle cx="615.7" cy="319.6" r="2.9"/>
<circle cx="612.7" cy="302.1" r="2.9"/>
<circle cx="591.3" cy="340.6" r="2.9"/>
<circle cx="628.1" cy="312.9" r="2.9"/>
<circle cx="638.6" cy="294.7" r="2.9"/>
<circle cx="612.4" cy="313.5" r="2.9"/>
<circle cx="608.7" cy="301.0" r="2.9"/>
<circle cx="610.8" cy="336.9" r="2.9"/>
<circle cx="596.3" cy="345.2" r="2.9"/>
<circle cx="594.0" cy="360.8" r="2.9"/>
<circle cx="614.0" cy="311.9" r="2.9"/>
<circle cx="586.3" cy="343.0" r="2.9"/>
<circle cx="616.9" cy="295.3" r="2.9"/>
<circle cx="627.2" cy="296.3" r="2.9"/>
<circle cx="623.2" cy="315.8" r="2.9"/>
<circle cx="618.7" cy="275.9" r="2.9"/>
<circle cx="610.2" cy="311.3" r="2.9"/>
<circle cx="599.7" cy="295.9" r="2.9"/>
<circle cx="629.6" cy="301.4" r="2.9"/>
<circle cx="617.7" cy="333.8" r="2.9"/>
<circle cx="629.2" cy="296.9" r="2.9"/>
<circle cx="616.1" cy="276.0" r="2.9"/>
<circle cx="616.9" cy="299.5" r="2.9"/>
<circle cx="596.5" cy="322.3" r="2.9"/>
<circle cx="612.5" cy="304.2" r="2.9"/>
<circle cx="592.2" cy="324.5" r="2.9"/>
<circle cx="606.5" cy="323.8" r="2.9"/>
<circle cx="604.2" cy="335.5" r="2.9"/>
<circle cx="605.8" cy="315.6" r="2.9"/>
<circle cx="603.0" cy="302.5" r="2.9"/>
<circle cx="607.9" cy="304.0" r="2.9"/>
<circle cx="606.8" cy="323.3" r="2.9"/>
<circle cx="589.0" cy="346.4" r="2.9"/>
<circle cx="608.5" cy="288.3" r="2.9"/>
<circle cx="599.1" cy="309.4" r="2.9"/>
<circle cx="598.6" cy="334.4" r="2.9"/>
<circle cx="626.5" cy="295.3" r="2.9"/>
<circle cx="624.8" cy="286.4" r="2.9"/>
<circle cx="602.0" cy="359.1" r="2.9"/>
<circle cx="614.6" cy="315.6" r="2.9"/>
<circle cx="623.0" cy="299.3" r="2.9"/>
<circle cx="592.0" cy="360.2" r="2.9"/>
<circle cx="595.6" cy="324.5" r="2.9"/>
<circle cx="600.8" cy="317.7" r="2.9"/>
<circle cx="627.4" cy="280.5" r="2.9"/>
<circle cx="623.9" cy="311.4" r="2.9"/>
<circle cx="635.3" cy="306.3" r="2.9"/>
<circle cx="603.9" cy="352.6" r="2.9"/>
<circle cx="585.9" cy="347.4" r="2.9"/>
<circle cx="610.1" cy="335.4" r="2.9"/>
<circle cx="617.2" cy="314.8" r="2.9"/>
<circle cx="590.2" cy="325.0" r="2.9"/>
<circle cx="613.6" cy="305.3" r="2.9"/>
<circle cx="612.6" cy="308.6" r="2.9"/>
<circle cx="612.6" cy="344.5" r="2.9"/>
<circle cx="600.2" cy="353.2" r="2.9"/>
<circle cx="617.7" cy="277.5" r="2.9"/>
<circle cx="590.9" cy="316.2" r="2.9"/>
<circle cx="620.9" cy="311.8" r="2.9"/>
<circle cx="607.5" cy="335.7" r="2.9"/>
<circle cx="594.5" cy="320.3" r="2.9"/>
<circle cx="635.8" cy="289.3" r="2.9"/>
<circle cx="605.7" cy="334.2" r="2.9"/>
<circle cx="599.1" cy="298.4" r="2.9"/>
<circle cx="617.7" cy="284.4" r="2.9"/>
<circle cx="627.4" cy="282.4" r="2.9"/>
<circle cx="632.1" cy="299.9" r="2.9"/>
<circle cx="628.1" cy="291.0" r="2.9"/>
<circle cx="606.1" cy="326.2" r="2.9"/>
<circle cx="612.0" cy="280.8" r="2.9"/>
<circle cx="612.8" cy="290.9" r="2.9"/>
<circle cx="609.0" cy="337.4" r="2.9"/>
<circle cx="606.4" cy="327.1" r="2.9"/>
<circle cx="615.6" cy="292.4" r="2.9"/>
<circle cx="593.0" cy="314.5" r="2.9"/>
<circle cx="624.5" cy="303.6" r="2.9"/>
<circle cx="601.9" cy="363.3" r="2.9"/>
<circle cx="598.2" cy="330.5" r="2.9"/>
<circle cx="625.3" cy="298.9" r="2.9"/>
<circle cx="637.4" cy="295.7" r="2.9"/>
<circle cx="603.8" cy="333.6" r="2.9"/>
<circle cx="608.3" cy="322.5" r="2.9"/>
<circle cx="604.7" cy="309.0" r="2.9"/>
<circle cx="595.8" cy="319.0" r="2.9"/>
<circle cx="597.0" cy="341.7" r="2.9"/>
<circle cx="610.1" cy="317.7" r="2.9"/>
<circle cx="611.6" cy="320.2" r="2.9"/>
<circle cx="603.1" cy="345.0" r="2.9"/>
<circle cx="610.3" cy="312.4" r="2.9"/>
<circle cx="613.1" cy="319.6" r="2.9"/>
<circle cx="599.8" cy="323.5" r="2.9"/>
<circle cx="606.0" cy="317.6" r="2.9"/>
<circle cx="601.8" cy="352.3" r="2.9"/>
<circle cx="609.7" cy="314.8" r="2.9"/>
<circle cx="605.5" cy="333.9" r="2.9"/>
<circle cx="594.7" cy="340.1" r="2.9"/>
<circle cx="598.6" cy="322.1" r="2.9"/>
<circle cx="593.4" cy="341.5" r="2.9"/>
<circle cx="613.0" cy="319.1" r="2.9"/>
<circle cx="603.2" cy="337.7" r="2.9"/>
<circle cx="608.2" cy="326.9" r="2.9"/>
<circle cx="594.9" cy="331.6" r="2.9"/>
<circle cx="612.7" cy="316.8" r="2.9"/>
<circle cx="600.8" cy="338.8" r="2.9"/>
<circle cx="599.4" cy="337.9" r="2.9"/>
<circle cx="601.1" cy="309.0" r="2.9"/>
<circle cx="592.6" cy="324.9" r="2.9"/>
<circle cx="599.2" cy="347.1" r="2.9"/>
<circle cx="605.7" cy="333.2" r="2.9"/>
<circle cx="606.1" cy="333.6" r="2.9"/>
<circle cx="612.5" cy="319.3" r="2.9"/>
<circle cx="608.5" cy="332.9" r="2.9"/>
<circle cx="603.9" cy="321.2" r="2.9"/>
<circle cx="601.2" cy="321.3" r="2.9"/>
<circle cx="598.3" cy="345.0" r="2.9"/>
<circle cx="596.4" cy="334.0" r="2.9"/>
<circle cx="596.2" cy="326.4" r="2.9"/>
<circle cx="608.5" cy="316.4" r="2.9"/>
<circle cx="609.2" cy="317.1" r="2.9"/>
<circle cx="593.6" cy="330.0" r="2.9"/>
<circle cx="606.1" cy="336.4" r="2.9"/>
<circle cx="602.8" cy="317.6" r="2.9"/>
<circle cx="604.5" cy="329.7" r="2.9"/>
<circle cx="600.8" cy="340.5" r="2.9"/>
<circle cx="604.5" cy="324.7" r="2.9"/>
<circle cx="612.4" cy="320.6" r="2.9"/>
<circle cx="606.0" cy="319.8" r="2.9"/>
<circle cx="611.7" cy="316.0" r="2.9"/>
<circle cx="609.2" cy="318.9" r="2.9"/>
<circle cx="612.2" cy="319.1" r="2.9"/>
<circle cx="597.3" cy="320.0" r="2.9"/>
<circle cx="602.6" cy="317.5" r="2.9"/>
<circle cx="599.9" cy="320.7" r="2.9"/>
<circle cx="598.5" cy="323.1" r="2.9"/>
<circle cx="607.2" cy="312.5" r="2.9"/>
<circle cx="604.3" cy="343.7" r="2.9"/>
<circle cx="597.9" cy="336.3" r="2.9"/>
<circle cx="598.3" cy="347.3" r="2.9"/>
<circle cx="603.1" cy="325.3" r="2.9"/>
<circle cx="600.8" cy="317.8" r="2.9"/>
<circle cx="620.7" cy="277.2" r="2.9"/>
<circle cx="611.0" cy="275.2" r="2.9"/>
<circle cx="621.7" cy="269.8" r="2.9"/>
<circle cx="622.8" cy="283.7" r="2.9"/>
<circle cx="603.6" cy="287.4" r="2.9"/>
<circle cx="623.7" cy="272.4" r="2.9"/>
<circle cx="632.4" cy="272.0" r="2.9"/>
<circle cx="639.0" cy="273.7" r="2.9"/>
<circle cx="606.3" cy="296.4" r="2.9"/>
<circle cx="631.4" cy="278.5" r="2.9"/>
<circle cx="616.3" cy="302.6" r="2.9"/>
<circle cx="624.5" cy="278.3" r="2.9"/>
<circle cx="626.1" cy="279.7" r="2.9"/>
<circle cx="644.9" cy="273.1" r="2.9"/>
<circle cx="610.5" cy="296.5" r="2.9"/>
<circle cx="631.2" cy="297.2" r="2.9"/>
<circle cx="622.4" cy="267.6" r="2.9"/>
<circle cx="620.7" cy="304.4" r="2.9"/>
<circle cx="641.9" cy="275.6" r="2.9"/>
<circle cx="629.0" cy="262.5" r="2.9"/>
<circle cx="632.6" cy="287.5" r="2.9"/>
<circle cx="616.0" cy="273.5" r="2.9"/>
<circle cx="618.0" cy="280.4" r="2.9"/>
<circle cx="604.3" cy="292.6" r="2.9"/>
<circle cx="620.1" cy="276.4" r="2.9"/>
<circle cx="640.8" cy="284.1" r="2.9"/>
<circle cx="641.6" cy="282.4" r="2.9"/>
<circle cx="645.5" cy="275.5" r="2.9"/>
<circle cx="606.2" cy="289.8" r="2.9"/>
<circle cx="630.9" cy="273.2" r="2.9"/>
</g>
<g fill="#ec1c27" stroke="#c81a27" stroke-width="0.6">
<path d="M989.8 366.0 L987.9 346.9 L988.6 323.1 L989.8 299.3 L992.2 287.4 L999.3 285.0 L1005.3 294.5 L1006.5 311.2 L1004.1 335.0 L1000.5 354.0 L995.8 366.0Z" stroke="none"/>
<circle cx="1002.9" cy="89.8" r="2.9"/>
<circle cx="1020.8" cy="96.4" r="2.9"/>
<circle cx="1026.7" cy="95.0" r="2.9"/>
<circle cx="1032.7" cy="102.9" r="2.9"/>
<circle cx="1035.5" cy="105.2" r="2.9"/>
<circle cx="1083.4" cy="97.6" r="2.9"/>
<circle cx="1096.5" cy="95.2" r="2.9"/>
<circle cx="1111.7" cy="101.2" r="2.9"/>
<circle cx="1107.0" cy="117.9" r="2.9"/>
<circle cx="1080.8" cy="127.9" r="2.9"/>
<circle cx="1089.1" cy="134.0" r="2.9"/>
<circle cx="1120.0" cy="135.5" r="2.9"/>
<circle cx="1152.9" cy="137.4" r="2.9"/>
<circle cx="1098.6" cy="153.3" r="2.9"/>
<circle cx="1044.6" cy="134.5" r="2.9"/>
<circle cx="1055.8" cy="135.5" r="2.9"/>
<circle cx="1005.3" cy="112.4" r="2.9"/>
<circle cx="1020.8" cy="111.2" r="2.9"/>
<circle cx="1024.3" cy="113.1" r="2.9"/>
<circle cx="1004.1" cy="123.1" r="2.9"/>
<circle cx="997.0" cy="127.9" r="2.9"/>
<circle cx="1001.7" cy="130.2" r="2.9"/>
<circle cx="1006.5" cy="132.6" r="2.9"/>
<circle cx="1004.6" cy="139.8" r="2.9"/>
<circle cx="1016.0" cy="133.8" r="2.9"/>
<circle cx="1023.1" cy="135.0" r="2.9"/>
<circle cx="994.6" cy="148.8" r="2.9"/>
<circle cx="1000.5" cy="156.0" r="2.9"/>
<circle cx="1005.3" cy="155.2" r="2.9"/>
<circle cx="1011.2" cy="154.0" r="2.9"/>
<circle cx="1017.2" cy="158.8" r="2.9"/>
<circle cx="1023.1" cy="160.0" r="2.9"/>
<circle cx="1029.1" cy="160.0" r="2.9"/>
<circle cx="1034.6" cy="154.0" r="2.9"/>
<circle cx="1035.0" cy="164.3" r="2.9"/>
<circle cx="1057.7" cy="155.2" r="2.9"/>
<circle cx="1060.0" cy="156.4" r="2.9"/>
<circle cx="1073.6" cy="161.7" r="2.9"/>
<circle cx="1056.5" cy="166.0" r="2.9"/>
<circle cx="1063.1" cy="167.1" r="2.9"/>
<circle cx="1066.0" cy="177.9" r="2.9"/>
<circle cx="974.3" cy="170.7" r="2.9"/>
<circle cx="1008.9" cy="171.2" r="2.9"/>
<circle cx="1017.2" cy="168.3" r="2.9"/>
<circle cx="1019.6" cy="171.9" r="2.9"/>
<circle cx="1014.8" cy="176.7" r="2.9"/>
<circle cx="1033.1" cy="173.6" r="2.9"/>
<circle cx="998.1" cy="182.1" r="2.9"/>
<circle cx="1002.9" cy="182.6" r="2.9"/>
<circle cx="994.1" cy="188.6" r="2.9"/>
<circle cx="1004.1" cy="189.8" r="2.9"/>
<circle cx="1012.4" cy="189.8" r="2.9"/>
<circle cx="1016.0" cy="191.0" r="2.9"/>
<circle cx="1020.8" cy="191.0" r="2.9"/>
<circle cx="1025.5" cy="191.7" r="2.9"/>
<circle cx="1029.1" cy="181.4" r="2.9"/>
<circle cx="1037.4" cy="188.6" r="2.9"/>
<circle cx="1038.6" cy="191.0" r="2.9"/>
<circle cx="1048.9" cy="195.2" r="2.9"/>
<circle cx="1062.4" cy="193.8" r="2.9"/>
<circle cx="1083.1" cy="191.2" r="2.9"/>
<circle cx="987.9" cy="198.1" r="2.9"/>
<circle cx="1070.0" cy="202.1" r="2.9"/>
<circle cx="1044.6" cy="207.6" r="2.9"/>
<circle cx="1049.3" cy="210.0" r="2.9"/>
<circle cx="1062.4" cy="214.3" r="2.9"/>
<circle cx="1073.1" cy="216.0" r="2.9"/>
<circle cx="1044.1" cy="218.3" r="2.9"/>
<circle cx="1052.2" cy="235.0" r="2.9"/>
<circle cx="989.8" cy="206.4" r="2.9"/>
<circle cx="997.0" cy="208.8" r="2.9"/>
<circle cx="1004.1" cy="206.4" r="2.9"/>
<circle cx="1013.6" cy="208.8" r="2.9"/>
<circle cx="1018.4" cy="207.6" r="2.9"/>
<circle cx="1023.1" cy="202.9" r="2.9"/>
<circle cx="1027.9" cy="206.0" r="2.9"/>
<circle cx="1032.7" cy="214.8" r="2.9"/>
<circle cx="1037.4" cy="212.4" r="2.9"/>
<circle cx="1029.1" cy="222.6" r="2.9"/>
<circle cx="1035.0" cy="232.6" r="2.9"/>
<circle cx="1030.3" cy="239.8" r="2.9"/>
<circle cx="1016.0" cy="213.6" r="2.9"/>
<circle cx="1008.9" cy="218.3" r="2.9"/>
<circle cx="1001.7" cy="223.1" r="2.9"/>
<circle cx="994.6" cy="220.7" r="2.9"/>
<circle cx="989.8" cy="216.0" r="2.9"/>
<circle cx="987.4" cy="213.6" r="2.9"/>
<circle cx="992.2" cy="227.9" r="2.9"/>
<circle cx="1001.7" cy="232.6" r="2.9"/>
<circle cx="1013.6" cy="235.0" r="2.9"/>
<circle cx="989.8" cy="239.8" r="2.9"/>
<circle cx="980.3" cy="248.1" r="2.9"/>
<circle cx="981.5" cy="252.9" r="2.9"/>
<circle cx="1032.7" cy="254.0" r="2.9"/>
<circle cx="1035.0" cy="261.2" r="2.9"/>
<circle cx="1042.2" cy="280.7" r="2.9"/>
<circle cx="1040.3" cy="295.7" r="2.9"/>
<circle cx="1033.9" cy="306.9" r="2.9"/>
<circle cx="1026.7" cy="317.1" r="2.9"/>
<circle cx="1013.6" cy="320.7" r="2.9"/>
<circle cx="979.8" cy="273.1" r="2.9"/>
<circle cx="979.8" cy="283.1" r="2.9"/>
<circle cx="973.1" cy="301.7" r="2.9"/>
<circle cx="973.1" cy="332.6" r="2.9"/>
<circle cx="972.0" cy="335.0" r="2.9"/>
<circle cx="980.3" cy="332.6" r="2.9"/>
<circle cx="976.7" cy="350.5" r="2.9"/>
<circle cx="983.9" cy="349.3" r="2.9"/>
<circle cx="980.3" cy="362.4" r="2.9"/>
<circle cx="1007.7" cy="356.4" r="2.9"/>
<circle cx="985.0" cy="374.3" r="2.9"/>
<circle cx="987.0" cy="381.4" r="2.9"/>
<circle cx="988.6" cy="368.3" r="2.9"/>
<circle cx="1016.0" cy="144.5" r="2.9"/>
<circle cx="1019.6" cy="149.3" r="2.9"/>
<circle cx="1023.1" cy="151.7" r="2.9"/>
<circle cx="1017.2" cy="156.4" r="2.9"/>
<circle cx="1014.8" cy="163.6" r="2.9"/>
<circle cx="1008.9" cy="163.6" r="2.9"/>
<circle cx="1001.7" cy="163.6" r="2.9"/>
<circle cx="1018.4" cy="180.2" r="2.9"/>
<circle cx="1011.2" cy="196.9" r="2.9"/>
<circle cx="1001.7" cy="196.9" r="2.9"/>
<circle cx="994.6" cy="199.3" r="2.9"/>
<circle cx="994.8" cy="334.7" r="2.9"/>
<circle cx="1002.2" cy="325.1" r="2.9"/>
<circle cx="988.6" cy="334.8" r="2.9"/>
<circle cx="997.8" cy="318.1" r="2.9"/>
<circle cx="1000.6" cy="318.0" r="2.9"/>
<circle cx="1002.9" cy="329.8" r="2.9"/>
<circle cx="998.9" cy="334.8" r="2.9"/>
<circle cx="997.2" cy="328.1" r="2.9"/>
<circle cx="993.7" cy="303.5" r="2.9"/>
<circle cx="991.5" cy="341.0" r="2.9"/>
<circle cx="996.1" cy="298.1" r="2.9"/>
<circle cx="1000.1" cy="299.3" r="2.9"/>
<circle cx="993.5" cy="301.2" r="2.9"/>
<circle cx="1000.5" cy="325.8" r="2.9"/>
<circle cx="988.2" cy="342.1" r="2.9"/>
<circle cx="991.2" cy="306.2" r="2.9"/>
<circle cx="989.8" cy="333.3" r="2.9"/>
<circle cx="998.2" cy="305.3" r="2.9"/>
<circle cx="990.4" cy="349.8" r="2.9"/>
<circle cx="997.4" cy="322.7" r="2.9"/>
<circle cx="999.2" cy="323.3" r="2.9"/>
<circle cx="995.9" cy="288.5" r="2.9"/>
<circle cx="1002.7" cy="329.6" r="2.9"/>
<circle cx="1001.2" cy="289.8" r="2.9"/>
<circle cx="996.7" cy="312.7" r="2.9"/>
<circle cx="997.7" cy="341.3" r="2.9"/>
<circle cx="992.7" cy="344.5" r="2.9"/>
<circle cx="1000.8" cy="290.8" r="2.9"/>
<circle cx="1003.9" cy="335.6" r="2.9"/>
<circle cx="992.9" cy="357.3" r="2.9"/>
<circle cx="988.7" cy="331.5" r="2.9"/>
<circle cx="1004.9" cy="324.3" r="2.9"/>
<circle cx="1003.2" cy="300.5" r="2.9"/>
<circle cx="997.2" cy="353.5" r="2.9"/>
<circle cx="1000.6" cy="353.4" r="2.9"/>
<circle cx="1000.0" cy="343.7" r="2.9"/>
<circle cx="1005.3" cy="299.7" r="2.9"/>
<circle cx="997.6" cy="335.3" r="2.9"/>
<circle cx="995.3" cy="359.3" r="2.9"/>
<circle cx="997.3" cy="291.0" r="2.9"/>
<circle cx="999.8" cy="345.3" r="2.9"/>
<circle cx="1000.9" cy="324.6" r="2.9"/>
<circle cx="996.6" cy="354.1" r="2.9"/>
<circle cx="1000.9" cy="342.1" r="2.9"/>
<circle cx="1003.1" cy="293.4" r="2.9"/>
<circle cx="995.2" cy="346.2" r="2.9"/>
<circle cx="1002.1" cy="345.5" r="2.9"/>
<circle cx="997.5" cy="324.0" r="2.9"/>
<circle cx="1005.0" cy="302.7" r="2.9"/>
<circle cx="993.8" cy="298.7" r="2.9"/>
<circle cx="997.4" cy="304.1" r="2.9"/>
<circle cx="1000.3" cy="363.1" r="2.9"/>
<circle cx="1004.1" cy="271.3" r="2.9"/>
<circle cx="997.9" cy="299.0" r="2.9"/>
<circle cx="989.6" cy="328.3" r="2.9"/>
<circle cx="1004.9" cy="336.6" r="2.9"/>
<circle cx="1018.4" cy="283.9" r="2.9"/>
<circle cx="994.4" cy="329.6" r="2.9"/>
<circle cx="985.9" cy="345.7" r="2.9"/>
<circle cx="993.1" cy="269.0" r="2.9"/>
<circle cx="1019.9" cy="284.0" r="2.9"/>
<circle cx="991.7" cy="359.1" r="2.9"/>
<circle cx="985.4" cy="334.3" r="2.9"/>
<circle cx="1000.4" cy="290.8" r="2.9"/>
<circle cx="1000.1" cy="347.1" r="2.9"/>
<circle cx="1001.6" cy="361.0" r="2.9"/>
<circle cx="988.5" cy="275.3" r="2.9"/>
<circle cx="1004.4" cy="349.9" r="2.9"/>
<circle cx="1006.4" cy="274.9" r="2.9"/>
<circle cx="994.3" cy="322.7" r="2.9"/>
<circle cx="1007.8" cy="326.0" r="2.9"/>
<circle cx="996.7" cy="320.0" r="2.9"/>
<circle cx="990.3" cy="322.4" r="2.9"/>
<circle cx="1012.2" cy="269.5" r="2.9"/>
<circle cx="992.0" cy="285.1" r="2.9"/>
<circle cx="986.9" cy="352.2" r="2.9"/>
<circle cx="1012.8" cy="280.7" r="2.9"/>
<circle cx="996.0" cy="269.8" r="2.9"/>
<circle cx="1005.1" cy="318.2" r="2.9"/>
<circle cx="1016.1" cy="298.0" r="2.9"/>
<circle cx="999.8" cy="277.5" r="2.9"/>
<circle cx="1006.1" cy="302.7" r="2.9"/>
<circle cx="1010.4" cy="293.7" r="2.9"/>
<circle cx="997.6" cy="330.9" r="2.9"/>
<circle cx="989.6" cy="286.5" r="2.9"/>
<circle cx="1005.1" cy="332.4" r="2.9"/>
<circle cx="988.5" cy="305.2" r="2.9"/>
<circle cx="1001.1" cy="304.7" r="2.9"/>
<circle cx="986.5" cy="334.7" r="2.9"/>
<circle cx="1010.5" cy="287.6" r="2.9"/>
<circle cx="1004.3" cy="349.9" r="2.9"/>
<circle cx="996.0" cy="284.9" r="2.9"/>
<circle cx="1012.2" cy="276.4" r="2.9"/>
<circle cx="990.9" cy="310.9" r="2.9"/>
<circle cx="1007.0" cy="288.4" r="2.9"/>
<circle cx="1020.6" cy="276.6" r="2.9"/>
<circle cx="1001.8" cy="300.5" r="2.9"/>
<circle cx="999.0" cy="271.9" r="2.9"/>
<circle cx="1018.3" cy="274.5" r="2.9"/>
<circle cx="996.2" cy="281.6" r="2.9"/>
<circle cx="994.5" cy="307.4" r="2.9"/>
<circle cx="1007.2" cy="289.7" r="2.9"/>
<circle cx="1013.6" cy="302.6" r="2.9"/>
<circle cx="984.8" cy="284.3" r="2.9"/>
<circle cx="1013.8" cy="291.2" r="2.9"/>
<circle cx="995.1" cy="307.9" r="2.9"/>
<circle cx="1000.5" cy="327.5" r="2.9"/>
<circle cx="1000.9" cy="302.9" r="2.9"/>
<circle cx="989.7" cy="302.7" r="2.9"/>
<circle cx="999.0" cy="291.8" r="2.9"/>
<circle cx="987.7" cy="350.9" r="2.9"/>
<circle cx="1010.1" cy="314.6" r="2.9"/>
<circle cx="1002.3" cy="283.9" r="2.9"/>
<circle cx="997.0" cy="355.8" r="2.9"/>
<circle cx="999.8" cy="303.5" r="2.9"/>
<circle cx="992.3" cy="343.8" r="2.9"/>
<circle cx="990.0" cy="284.1" r="2.9"/>
<circle cx="994.3" cy="306.9" r="2.9"/>
<circle cx="1006.0" cy="341.5" r="2.9"/>
<circle cx="1002.2" cy="333.5" r="2.9"/>
<circle cx="988.9" cy="255.0" r="2.9"/>
<circle cx="1008.3" cy="206.1" r="2.9"/>
<circle cx="1004.6" cy="218.3" r="2.9"/>
<circle cx="1006.0" cy="276.1" r="2.9"/>
<circle cx="1012.3" cy="207.1" r="2.9"/>
<circle cx="991.3" cy="256.0" r="2.9"/>
<circle cx="1018.4" cy="260.9" r="2.9"/>
<circle cx="1010.1" cy="202.7" r="2.9"/>
<circle cx="997.6" cy="220.7" r="2.9"/>
<circle cx="996.7" cy="259.2" r="2.9"/>
<circle cx="998.9" cy="200.8" r="2.9"/>
<circle cx="989.3" cy="236.6" r="2.9"/>
<circle cx="1002.8" cy="249.7" r="2.9"/>
<circle cx="1021.0" cy="233.5" r="2.9"/>
<circle cx="1016.6" cy="227.1" r="2.9"/>
<circle cx="994.5" cy="216.2" r="2.9"/>
<circle cx="1001.1" cy="236.0" r="2.9"/>
<circle cx="1014.0" cy="262.2" r="2.9"/>
<circle cx="1016.2" cy="269.7" r="2.9"/>
<circle cx="1001.7" cy="230.9" r="2.9"/>
<circle cx="1001.0" cy="246.7" r="2.9"/>
<circle cx="1004.7" cy="250.7" r="2.9"/>
<circle cx="1020.2" cy="231.6" r="2.9"/>
<circle cx="1007.5" cy="216.6" r="2.9"/>
<circle cx="1007.8" cy="252.0" r="2.9"/>
<circle cx="1011.6" cy="240.0" r="2.9"/>
<circle cx="992.3" cy="231.0" r="2.9"/>
<circle cx="997.2" cy="216.2" r="2.9"/>
<circle cx="1020.5" cy="262.8" r="2.9"/>
<circle cx="997.2" cy="226.8" r="2.9"/>
<circle cx="1005.1" cy="236.1" r="2.9"/>
<circle cx="1002.4" cy="206.9" r="2.9"/>
<circle cx="1008.3" cy="233.5" r="2.9"/>
<circle cx="1008.8" cy="248.1" r="2.9"/>
<circle cx="1001.0" cy="265.2" r="2.9"/>
<circle cx="996.6" cy="232.3" r="2.9"/>
<circle cx="1017.0" cy="264.1" r="2.9"/>
<circle cx="994.6" cy="229.5" r="2.9"/>
<circle cx="1006.0" cy="213.7" r="2.9"/>
<circle cx="1013.8" cy="255.4" r="2.9"/>
<circle cx="1000.4" cy="229.2" r="2.9"/>
<circle cx="994.1" cy="216.8" r="2.9"/>
<circle cx="1007.9" cy="248.5" r="2.9"/>
<circle cx="1017.5" cy="271.7" r="2.9"/>
<circle cx="1013.5" cy="251.7" r="2.9"/>
<circle cx="995.8" cy="239.2" r="2.9"/>
<circle cx="1019.4" cy="270.1" r="2.9"/>
<circle cx="1014.0" cy="279.3" r="2.9"/>
<circle cx="1017.3" cy="222.3" r="2.9"/>
<circle cx="1008.5" cy="251.6" r="2.9"/>
<circle cx="1017.2" cy="272.1" r="2.9"/>
<circle cx="1019.5" cy="241.6" r="2.9"/>
<circle cx="1018.5" cy="239.2" r="2.9"/>
<circle cx="1003.3" cy="244.0" r="2.9"/>
<circle cx="1008.8" cy="201.8" r="2.9"/>
<circle cx="1020.5" cy="241.5" r="2.9"/>
<circle cx="1001.1" cy="269.5" r="2.9"/>
<circle cx="994.8" cy="235.1" r="2.9"/>
<circle cx="993.6" cy="227.1" r="2.9"/>
<circle cx="999.1" cy="207.9" r="2.9"/>
<circle cx="1015.7" cy="226.9" r="2.9"/>
<circle cx="994.4" cy="243.8" r="2.9"/>
<circle cx="992.8" cy="232.3" r="2.9"/>
<circle cx="993.4" cy="264.2" r="2.9"/>
<circle cx="1005.0" cy="243.3" r="2.9"/>
<circle cx="1019.5" cy="252.7" r="2.9"/>
<circle cx="1008.4" cy="280.7" r="2.9"/>
<circle cx="1010.5" cy="264.9" r="2.9"/>
<circle cx="1006.3" cy="209.6" r="2.9"/>
<circle cx="1008.3" cy="278.7" r="2.9"/>
<circle cx="1014.4" cy="285.9" r="2.9"/>
<circle cx="995.5" cy="270.2" r="2.9"/>
<circle cx="1000.4" cy="212.8" r="2.9"/>
<circle cx="997.7" cy="216.7" r="2.9"/>
<circle cx="1014.9" cy="284.2" r="2.9"/>
<circle cx="1006.9" cy="249.3" r="2.9"/>
<circle cx="1007.6" cy="262.4" r="2.9"/>
<circle cx="1017.1" cy="273.9" r="2.9"/>
<circle cx="1003.4" cy="244.7" r="2.9"/>
<circle cx="1004.0" cy="214.1" r="2.9"/>
<circle cx="1003.2" cy="214.9" r="2.9"/>
<circle cx="1002.8" cy="251.0" r="2.9"/>
<circle cx="1020.2" cy="267.9" r="2.9"/>
<circle cx="1001.8" cy="252.3" r="2.9"/>
<circle cx="1003.1" cy="252.7" r="2.9"/>
<circle cx="1010.8" cy="307.5" r="2.9"/>
<circle cx="999.9" cy="267.4" r="2.9"/>
<circle cx="992.3" cy="258.7" r="2.9"/>
<circle cx="994.0" cy="300.2" r="2.9"/>
<circle cx="1008.9" cy="297.4" r="2.9"/>
<circle cx="989.7" cy="273.7" r="2.9"/>
<circle cx="1010.0" cy="254.2" r="2.9"/>
<circle cx="1005.9" cy="240.5" r="2.9"/>
<circle cx="1009.8" cy="283.2" r="2.9"/>
<circle cx="1009.7" cy="240.5" r="2.9"/>
<circle cx="1006.3" cy="265.0" r="2.9"/>
<circle cx="995.4" cy="312.6" r="2.9"/>
<circle cx="1005.5" cy="291.3" r="2.9"/>
<circle cx="1004.5" cy="305.3" r="2.9"/>
<circle cx="993.1" cy="274.4" r="2.9"/>
<circle cx="1011.6" cy="250.5" r="2.9"/>
<circle cx="992.4" cy="274.6" r="2.9"/>
<circle cx="1006.0" cy="303.9" r="2.9"/>
<circle cx="1009.6" cy="255.3" r="2.9"/>
<circle cx="998.8" cy="300.9" r="2.9"/>
<circle cx="993.1" cy="261.2" r="2.9"/>
<circle cx="998.5" cy="283.2" r="2.9"/>
<circle cx="1012.1" cy="249.1" r="2.9"/>
<circle cx="1002.4" cy="303.0" r="2.9"/>
<circle cx="1010.1" cy="303.0" r="2.9"/>
<circle cx="1016.9" cy="277.4" r="2.9"/>
<circle cx="996.9" cy="261.5" r="2.9"/>
<circle cx="1005.7" cy="306.3" r="2.9"/>
<circle cx="997.1" cy="297.3" r="2.9"/>
<circle cx="996.3" cy="255.5" r="2.9"/>
<circle cx="989.3" cy="267.3" r="2.9"/>
<circle cx="1015.4" cy="269.1" r="2.9"/>
<circle cx="1008.9" cy="244.1" r="2.9"/>
<circle cx="998.2" cy="277.2" r="2.9"/>
<circle cx="1015.6" cy="245.1" r="2.9"/>
<circle cx="1022.2" cy="180.7" r="2.9"/>
<circle cx="1017.7" cy="176.2" r="2.9"/>
<circle cx="1005.3" cy="191.6" r="2.9"/>
<circle cx="1013.0" cy="199.5" r="2.9"/>
<circle cx="1005.3" cy="168.3" r="2.9"/>
<circle cx="1023.9" cy="159.6" r="2.9"/>
<circle cx="1021.3" cy="190.0" r="2.9"/>
<circle cx="1017.2" cy="178.5" r="2.9"/>
<circle cx="1025.3" cy="150.9" r="2.9"/>
<circle cx="1016.6" cy="202.4" r="2.9"/>
<circle cx="1007.2" cy="150.4" r="2.9"/>
<circle cx="998.9" cy="195.1" r="2.9"/>
<circle cx="1011.7" cy="166.0" r="2.9"/>
<circle cx="1007.8" cy="184.8" r="2.9"/>
<circle cx="1018.9" cy="165.5" r="2.9"/>
<circle cx="1014.5" cy="201.2" r="2.9"/>
<circle cx="1014.2" cy="143.1" r="2.9"/>
<circle cx="997.5" cy="199.9" r="2.9"/>
</g>
<g fill="#e71e2a" stroke="#b41923" stroke-width="0.7">
<path d="M203.3 896.4 L205.7 882.1 L209.3 867.9 L215.2 863.1 L224.8 860.7 L229.5 865.5 L227.1 877.4 L220.0 886.9 L212.9 891.7Z" stroke="none"/>
<circle cx="345.5" cy="660.2" r="2.9"/>
<circle cx="342.4" cy="668.1" r="2.9"/>
<circle cx="379.5" cy="670.2" r="2.9"/>
<circle cx="385.5" cy="673.3" r="2.9"/>
<circle cx="253.8" cy="670.7" r="2.9"/>
<circle cx="277.1" cy="665.0" r="2.9"/>
<circle cx="247.4" cy="703.6" r="2.9"/>
<circle cx="307.1" cy="709.8" r="2.9"/>
<circle cx="343.1" cy="706.0" r="2.9"/>
<circle cx="371.9" cy="705.5" r="2.9"/>
<circle cx="266.4" cy="718.1" r="2.9"/>
<circle cx="331.2" cy="719.0" r="2.9"/>
<circle cx="280.0" cy="727.9" r="2.9"/>
<circle cx="259.0" cy="732.1" r="2.9"/>
<circle cx="337.1" cy="731.0" r="2.9"/>
<circle cx="300.0" cy="741.9" r="2.9"/>
<circle cx="312.1" cy="743.3" r="2.9"/>
<circle cx="324.8" cy="740.0" r="2.9"/>
<circle cx="284.8" cy="751.0" r="2.9"/>
<circle cx="305.0" cy="751.9" r="2.9"/>
<circle cx="318.1" cy="755.2" r="2.9"/>
<circle cx="300.5" cy="762.9" r="2.9"/>
<circle cx="343.8" cy="760.2" r="2.9"/>
<circle cx="231.4" cy="773.8" r="2.9"/>
<circle cx="246.2" cy="772.1" r="2.9"/>
<circle cx="259.8" cy="779.8" r="2.9"/>
<circle cx="284.8" cy="779.3" r="2.9"/>
<circle cx="294.8" cy="774.0" r="2.9"/>
<circle cx="306.2" cy="776.7" r="2.9"/>
<circle cx="297.1" cy="783.6" r="2.9"/>
<circle cx="315.7" cy="785.0" r="2.9"/>
<circle cx="319.5" cy="788.3" r="2.9"/>
<circle cx="261.4" cy="792.1" r="2.9"/>
<circle cx="256.0" cy="797.1" r="2.9"/>
<circle cx="291.0" cy="796.2" r="2.9"/>
<circle cx="298.8" cy="798.6" r="2.9"/>
<circle cx="309.3" cy="794.5" r="2.9"/>
<circle cx="257.1" cy="805.2" r="2.9"/>
<circle cx="264.3" cy="805.2" r="2.9"/>
<circle cx="253.8" cy="810.0" r="2.9"/>
<circle cx="266.4" cy="810.5" r="2.9"/>
<circle cx="274.3" cy="806.7" r="2.9"/>
<circle cx="234.8" cy="816.0" r="2.9"/>
<circle cx="242.1" cy="819.5" r="2.9"/>
<circle cx="246.9" cy="821.7" r="2.9"/>
<circle cx="253.8" cy="817.4" r="2.9"/>
<circle cx="265.7" cy="817.4" r="2.9"/>
<circle cx="256.2" cy="822.6" r="2.9"/>
<circle cx="256.2" cy="826.2" r="2.9"/>
<circle cx="223.8" cy="829.5" r="2.9"/>
<circle cx="231.9" cy="829.5" r="2.9"/>
<circle cx="248.6" cy="829.8" r="2.9"/>
<circle cx="253.3" cy="832.1" r="2.9"/>
<circle cx="266.4" cy="834.0" r="2.9"/>
<circle cx="255.7" cy="838.1" r="2.9"/>
<circle cx="246.2" cy="834.5" r="2.9"/>
<circle cx="241.4" cy="839.3" r="2.9"/>
<circle cx="236.7" cy="839.3" r="2.9"/>
<circle cx="228.3" cy="838.8" r="2.9"/>
<circle cx="243.8" cy="844.0" r="2.9"/>
<circle cx="246.2" cy="846.4" r="2.9"/>
<circle cx="239.0" cy="847.6" r="2.9"/>
<circle cx="234.3" cy="848.8" r="2.9"/>
<circle cx="231.9" cy="853.6" r="2.9"/>
<circle cx="221.2" cy="851.2" r="2.9"/>
<circle cx="224.8" cy="854.8" r="2.9"/>
<circle cx="229.5" cy="860.7" r="2.9"/>
<circle cx="239.0" cy="859.5" r="2.9"/>
<circle cx="234.3" cy="867.9" r="2.9"/>
<circle cx="228.3" cy="875.5" r="2.9"/>
<circle cx="220.0" cy="886.9" r="2.9"/>
<circle cx="212.9" cy="882.1" r="2.9"/>
<circle cx="205.7" cy="886.2" r="2.9"/>
<circle cx="203.3" cy="896.4" r="2.9"/>
<circle cx="198.6" cy="903.6" r="2.9"/>
<circle cx="204.5" cy="902.4" r="2.9"/>
<circle cx="188.6" cy="919.0" r="2.9"/>
<circle cx="215.2" cy="870.3" r="2.9"/>
<circle cx="218.7" cy="886.0" r="2.9"/>
<circle cx="212.1" cy="887.1" r="2.9"/>
<circle cx="208.7" cy="889.4" r="2.9"/>
<circle cx="219.4" cy="883.7" r="2.9"/>
<circle cx="210.5" cy="875.3" r="2.9"/>
<circle cx="225.6" cy="866.7" r="2.9"/>
<circle cx="205.9" cy="894.3" r="2.9"/>
<circle cx="221.5" cy="868.6" r="2.9"/>
<circle cx="206.7" cy="878.7" r="2.9"/>
<circle cx="208.9" cy="881.1" r="2.9"/>
<circle cx="214.6" cy="870.2" r="2.9"/>
<circle cx="224.7" cy="870.2" r="2.9"/>
<circle cx="226.1" cy="867.3" r="2.9"/>
<circle cx="209.1" cy="885.5" r="2.9"/>
<circle cx="205.2" cy="893.6" r="2.9"/>
<circle cx="220.6" cy="886.0" r="2.9"/>
<circle cx="218.9" cy="869.8" r="2.9"/>
<circle cx="223.1" cy="881.0" r="2.9"/>
<circle cx="208.9" cy="891.6" r="2.9"/>
<circle cx="220.2" cy="869.6" r="2.9"/>
<circle cx="212.5" cy="884.6" r="2.9"/>
<circle cx="220.1" cy="876.2" r="2.9"/>
<circle cx="220.8" cy="862.9" r="2.9"/>
<circle cx="221.8" cy="883.2" r="2.9"/>
<circle cx="212.1" cy="878.8" r="2.9"/>
<circle cx="214.5" cy="865.9" r="2.9"/>
<circle cx="224.6" cy="865.5" r="2.9"/>
<circle cx="210.7" cy="887.3" r="2.9"/>
<circle cx="226.0" cy="864.2" r="2.9"/>
<circle cx="223.4" cy="869.3" r="2.9"/>
<circle cx="227.3" cy="864.2" r="2.9"/>
<circle cx="210.0" cy="890.4" r="2.9"/>
<circle cx="212.1" cy="866.5" r="2.9"/>
<circle cx="217.8" cy="878.1" r="2.9"/>
<circle cx="218.1" cy="864.6" r="2.9"/>
<circle cx="218.1" cy="886.1" r="2.9"/>
<circle cx="210.2" cy="882.5" r="2.9"/>
<circle cx="215.5" cy="873.6" r="2.9"/>
<circle cx="224.5" cy="873.6" r="2.9"/>
<circle cx="237.5" cy="844.2" r="2.9"/>
<circle cx="241.9" cy="837.6" r="2.9"/>
<circle cx="237.4" cy="849.0" r="2.9"/>
<circle cx="237.6" cy="844.9" r="2.9"/>
<circle cx="244.8" cy="847.2" r="2.9"/>
<circle cx="240.8" cy="835.8" r="2.9"/>
<circle cx="235.6" cy="849.4" r="2.9"/>
<circle cx="241.0" cy="844.8" r="2.9"/>
<circle cx="241.2" cy="838.0" r="2.9"/>
<circle cx="234.7" cy="847.7" r="2.9"/>
<circle cx="248.1" cy="838.6" r="2.9"/>
<circle cx="240.8" cy="838.9" r="2.9"/>
<circle cx="242.8" cy="836.0" r="2.9"/>
<circle cx="239.9" cy="849.8" r="2.9"/>
<circle cx="234.9" cy="854.1" r="2.9"/>
<circle cx="244.2" cy="839.7" r="2.9"/>
<circle cx="239.0" cy="839.9" r="2.9"/>
<circle cx="238.2" cy="844.3" r="2.9"/>
</g>
<g fill="#e71e2a" stroke="#b41923" stroke-width="0.7">
<circle cx="727.5" cy="660.2" r="2.9"/>
<circle cx="717.5" cy="665.0" r="2.9"/>
<circle cx="724.0" cy="668.3" r="2.9"/>
<circle cx="702.0" cy="670.7" r="2.9"/>
<circle cx="771.6" cy="670.7" r="2.9"/>
<circle cx="635.9" cy="673.1" r="2.9"/>
<circle cx="672.8" cy="705.2" r="2.9"/>
<circle cx="676.8" cy="709.8" r="2.9"/>
<circle cx="749.4" cy="703.6" r="2.9"/>
<circle cx="584.2" cy="718.6" r="2.9"/>
<circle cx="651.8" cy="718.8" r="2.9"/>
<circle cx="737.5" cy="718.1" r="2.9"/>
<circle cx="735.9" cy="727.9" r="2.9"/>
<circle cx="680.6" cy="731.9" r="2.9"/>
<circle cx="700.1" cy="731.0" r="2.9"/>
<circle cx="642.3" cy="740.0" r="2.9"/>
<circle cx="652.5" cy="741.9" r="2.9"/>
<circle cx="694.7" cy="743.3" r="2.9"/>
<circle cx="657.3" cy="750.7" r="2.9"/>
<circle cx="660.9" cy="751.9" r="2.9"/>
<circle cx="673.2" cy="755.2" r="2.9"/>
<circle cx="643.7" cy="762.6" r="2.9"/>
<circle cx="647.8" cy="760.7" r="2.9"/>
<circle cx="679.9" cy="773.8" r="2.9"/>
<circle cx="695.9" cy="772.1" r="2.9"/>
<circle cx="650.1" cy="773.8" r="2.9"/>
<circle cx="649.7" cy="779.3" r="2.9"/>
<circle cx="654.2" cy="779.8" r="2.9"/>
<circle cx="665.6" cy="776.7" r="2.9"/>
<circle cx="609.7" cy="784.5" r="2.9"/>
<circle cx="619.9" cy="783.6" r="2.9"/>
<circle cx="572.3" cy="788.3" r="2.9"/>
<circle cx="605.6" cy="792.1" r="2.9"/>
<circle cx="604.9" cy="794.5" r="2.9"/>
<circle cx="618.7" cy="798.3" r="2.9"/>
<circle cx="637.8" cy="796.4" r="2.9"/>
<circle cx="665.6" cy="797.1" r="2.9"/>
<circle cx="631.1" cy="807.1" r="2.9"/>
<circle cx="638.7" cy="806.0" r="2.9"/>
<circle cx="651.3" cy="805.2" r="2.9"/>
<circle cx="649.4" cy="810.2" r="2.9"/>
<circle cx="656.6" cy="810.2" r="2.9"/>
<circle cx="679.2" cy="805.2" r="2.9"/>
<circle cx="697.0" cy="816.0" r="2.9"/>
<circle cx="614.9" cy="817.4" r="2.9"/>
<circle cx="624.0" cy="820.7" r="2.9"/>
<circle cx="626.3" cy="819.8" r="2.9"/>
<circle cx="634.7" cy="817.9" r="2.9"/>
<circle cx="610.9" cy="826.9" r="2.9"/>
<circle cx="612.0" cy="829.8" r="2.9"/>
<circle cx="615.6" cy="830.2" r="2.9"/>
<circle cx="626.3" cy="829.3" r="2.9"/>
<circle cx="631.1" cy="829.8" r="2.9"/>
<circle cx="634.7" cy="829.3" r="2.9"/>
<circle cx="631.1" cy="834.5" r="2.9"/>
<circle cx="632.3" cy="840.5" r="2.9"/>
<circle cx="626.3" cy="838.1" r="2.9"/>
<circle cx="603.7" cy="838.1" r="2.9"/>
<circle cx="608.5" cy="843.3" r="2.9"/>
<circle cx="621.6" cy="840.5" r="2.9"/>
<circle cx="619.2" cy="845.2" r="2.9"/>
<circle cx="624.0" cy="847.6" r="2.9"/>
<circle cx="628.7" cy="851.2" r="2.9"/>
<circle cx="641.3" cy="847.6" r="2.9"/>
<circle cx="606.1" cy="856.0" r="2.9"/>
<circle cx="612.0" cy="857.1" r="2.9"/>
<circle cx="615.6" cy="853.6" r="2.9"/>
<circle cx="620.4" cy="860.7" r="2.9"/>
<circle cx="622.8" cy="866.7" r="2.9"/>
<circle cx="602.5" cy="866.7" r="2.9"/>
<circle cx="588.2" cy="867.4" r="2.9"/>
<circle cx="607.3" cy="865.5" r="2.9"/>
<circle cx="612.0" cy="863.1" r="2.9"/>
<circle cx="615.6" cy="867.9" r="2.9"/>
<circle cx="606.1" cy="872.6" r="2.9"/>
<circle cx="613.2" cy="875.0" r="2.9"/>
<circle cx="603.7" cy="882.1" r="2.9"/>
<circle cx="608.5" cy="884.5" r="2.9"/>
<circle cx="606.1" cy="889.3" r="2.9"/>
<circle cx="595.4" cy="901.2" r="2.9"/>
<circle cx="599.0" cy="898.8" r="2.9"/>
<circle cx="603.7" cy="901.2" r="2.9"/>
<circle cx="596.6" cy="919.0" r="2.9"/>
<circle cx="606.2" cy="886.9" r="2.9"/>
<circle cx="615.3" cy="856.9" r="2.9"/>
<circle cx="609.5" cy="855.4" r="2.9"/>
<circle cx="615.2" cy="860.2" r="2.9"/>
<circle cx="611.7" cy="859.2" r="2.9"/>
<circle cx="620.7" cy="851.7" r="2.9"/>
<circle cx="612.4" cy="868.6" r="2.9"/>
<circle cx="616.4" cy="857.4" r="2.9"/>
<circle cx="614.7" cy="859.4" r="2.9"/>
<circle cx="610.4" cy="858.4" r="2.9"/>
<circle cx="620.5" cy="853.3" r="2.9"/>
<circle cx="609.9" cy="884.6" r="2.9"/>
<circle cx="604.4" cy="885.4" r="2.9"/>
<circle cx="619.5" cy="861.1" r="2.9"/>
<circle cx="610.6" cy="881.8" r="2.9"/>
<circle cx="616.8" cy="851.2" r="2.9"/>
<circle cx="610.3" cy="858.5" r="2.9"/>
<circle cx="611.4" cy="865.6" r="2.9"/>
<circle cx="609.6" cy="882.2" r="2.9"/>
<circle cx="612.1" cy="875.9" r="2.9"/>
<circle cx="606.0" cy="862.0" r="2.9"/>
<circle cx="611.9" cy="874.6" r="2.9"/>
<circle cx="611.0" cy="882.2" r="2.9"/>
<circle cx="609.6" cy="859.0" r="2.9"/>
<circle cx="608.2" cy="869.2" r="2.9"/>
<circle cx="606.3" cy="890.1" r="2.9"/>
<circle cx="610.9" cy="883.1" r="2.9"/>
<circle cx="611.2" cy="857.3" r="2.9"/>
<circle cx="615.4" cy="852.7" r="2.9"/>
<circle cx="603.8" cy="875.5" r="2.9"/>
<circle cx="613.4" cy="853.9" r="2.9"/>
<circle cx="606.9" cy="876.7" r="2.9"/>
<circle cx="612.9" cy="872.7" r="2.9"/>
<circle cx="606.6" cy="880.6" r="2.9"/>
<circle cx="608.5" cy="873.2" r="2.9"/>
<circle cx="603.7" cy="874.1" r="2.9"/>
<circle cx="609.1" cy="863.4" r="2.9"/>
<circle cx="615.4" cy="869.6" r="2.9"/>
<circle cx="616.9" cy="864.1" r="2.9"/>
<circle cx="618.8" cy="861.6" r="2.9"/>
<circle cx="608.5" cy="870.3" r="2.9"/>
<circle cx="618.0" cy="860.9" r="2.9"/>
</g>
<g fill="#e71e2a" stroke="#b41923" stroke-width="0.7">
<circle cx="1049.3" cy="659.5" r="2.9"/>
<circle cx="1020.3" cy="664.3" r="2.9"/>
<circle cx="1026.2" cy="667.9" r="2.9"/>
<circle cx="1017.9" cy="672.6" r="2.9"/>
<circle cx="1018.9" cy="669.8" r="2.9"/>
<circle cx="1117.2" cy="669.8" r="2.9"/>
<circle cx="1016.0" cy="703.1" r="2.9"/>
<circle cx="1021.2" cy="706.0" r="2.9"/>
<circle cx="1024.3" cy="704.8" r="2.9"/>
<circle cx="982.7" cy="718.3" r="2.9"/>
<circle cx="986.2" cy="718.6" r="2.9"/>
<circle cx="1080.8" cy="709.8" r="2.9"/>
<circle cx="1082.0" cy="717.9" r="2.9"/>
<circle cx="1081.2" cy="731.9" r="2.9"/>
<circle cx="1011.7" cy="727.4" r="2.9"/>
<circle cx="1017.7" cy="730.5" r="2.9"/>
<circle cx="1022.2" cy="743.3" r="2.9"/>
<circle cx="1023.1" cy="750.7" r="2.9"/>
<circle cx="1026.7" cy="752.4" r="2.9"/>
<circle cx="1029.1" cy="755.5" r="2.9"/>
<circle cx="1060.5" cy="741.7" r="2.9"/>
<circle cx="1068.9" cy="740.0" r="2.9"/>
<circle cx="1008.9" cy="760.2" r="2.9"/>
<circle cx="1026.0" cy="762.6" r="2.9"/>
<circle cx="1016.0" cy="773.8" r="2.9"/>
<circle cx="1026.2" cy="772.6" r="2.9"/>
<circle cx="1035.0" cy="777.4" r="2.9"/>
<circle cx="1036.2" cy="776.2" r="2.9"/>
<circle cx="1051.7" cy="773.8" r="2.9"/>
<circle cx="972.7" cy="788.3" r="2.9"/>
<circle cx="1004.1" cy="779.3" r="2.9"/>
<circle cx="1001.7" cy="784.5" r="2.9"/>
<circle cx="1008.9" cy="783.3" r="2.9"/>
<circle cx="1008.9" cy="792.9" r="2.9"/>
<circle cx="1011.2" cy="796.4" r="2.9"/>
<circle cx="1005.3" cy="798.3" r="2.9"/>
<circle cx="1018.9" cy="794.5" r="2.9"/>
<circle cx="1043.9" cy="796.9" r="2.9"/>
<circle cx="1007.7" cy="807.1" r="2.9"/>
<circle cx="1012.9" cy="805.5" r="2.9"/>
<circle cx="1020.3" cy="810.7" r="2.9"/>
<circle cx="1029.8" cy="805.5" r="2.9"/>
<circle cx="1035.5" cy="806.0" r="2.9"/>
<circle cx="1029.8" cy="810.2" r="2.9"/>
<circle cx="1013.6" cy="816.0" r="2.9"/>
<circle cx="1016.0" cy="819.0" r="2.9"/>
<circle cx="1029.1" cy="821.7" r="2.9"/>
<circle cx="1006.5" cy="818.3" r="2.9"/>
<circle cx="1006.5" cy="825.0" r="2.9"/>
<circle cx="1008.9" cy="829.8" r="2.9"/>
<circle cx="1013.6" cy="830.2" r="2.9"/>
<circle cx="1004.1" cy="838.1" r="2.9"/>
<circle cx="1008.9" cy="839.3" r="2.9"/>
<circle cx="1017.2" cy="840.5" r="2.9"/>
<circle cx="1022.0" cy="842.9" r="2.9"/>
<circle cx="1025.5" cy="844.0" r="2.9"/>
<circle cx="1024.3" cy="847.6" r="2.9"/>
<circle cx="1027.9" cy="853.6" r="2.9"/>
<circle cx="1005.3" cy="848.8" r="2.9"/>
<circle cx="1011.2" cy="850.0" r="2.9"/>
<circle cx="1006.5" cy="856.0" r="2.9"/>
<circle cx="1013.6" cy="856.0" r="2.9"/>
<circle cx="999.3" cy="866.0" r="2.9"/>
<circle cx="1004.1" cy="867.9" r="2.9"/>
<circle cx="1011.2" cy="865.5" r="2.9"/>
<circle cx="1016.0" cy="866.7" r="2.9"/>
<circle cx="1006.5" cy="872.6" r="2.9"/>
<circle cx="1013.6" cy="872.6" r="2.9"/>
<circle cx="1001.7" cy="882.1" r="2.9"/>
<circle cx="1007.7" cy="882.1" r="2.9"/>
<circle cx="999.3" cy="884.5" r="2.9"/>
<circle cx="1004.1" cy="886.9" r="2.9"/>
<circle cx="1010.0" cy="886.9" r="2.9"/>
<circle cx="1002.9" cy="896.4" r="2.9"/>
<circle cx="1005.3" cy="902.4" r="2.9"/>
<circle cx="993.4" cy="904.0" r="2.9"/>
<circle cx="997.4" cy="919.8" r="2.9"/>
<circle cx="1006.5" cy="880.5" r="2.9"/>
<circle cx="1006.0" cy="849.6" r="2.9"/>
<circle cx="1012.6" cy="862.0" r="2.9"/>
<circle cx="1014.3" cy="857.3" r="2.9"/>
<circle cx="1009.1" cy="877.7" r="2.9"/>
<circle cx="1006.1" cy="896.7" r="2.9"/>
<circle cx="1016.4" cy="866.2" r="2.9"/>
<circle cx="1003.6" cy="895.3" r="2.9"/>
<circle cx="1005.3" cy="894.9" r="2.9"/>
<circle cx="1006.1" cy="828.1" r="2.9"/>
<circle cx="1013.3" cy="878.7" r="2.9"/>
<circle cx="1009.7" cy="865.6" r="2.9"/>
<circle cx="1011.8" cy="837.8" r="2.9"/>
<circle cx="1005.5" cy="854.1" r="2.9"/>
<circle cx="1001.5" cy="871.2" r="2.9"/>
<circle cx="1009.2" cy="836.2" r="2.9"/>
<circle cx="1006.1" cy="839.6" r="2.9"/>
<circle cx="1013.0" cy="838.6" r="2.9"/>
<circle cx="1000.5" cy="885.3" r="2.9"/>
<circle cx="1005.9" cy="880.2" r="2.9"/>
<circle cx="1005.5" cy="884.2" r="2.9"/>
<circle cx="1008.6" cy="885.6" r="2.9"/>
<circle cx="1004.8" cy="866.2" r="2.9"/>
<circle cx="1009.7" cy="831.0" r="2.9"/>
<circle cx="1010.4" cy="883.0" r="2.9"/>
<circle cx="1005.4" cy="855.6" r="2.9"/>
<circle cx="1010.1" cy="838.2" r="2.9"/>
<circle cx="1000.2" cy="890.7" r="2.9"/>
<circle cx="1009.2" cy="856.7" r="2.9"/>
<circle cx="1006.4" cy="854.7" r="2.9"/>
<circle cx="1010.7" cy="861.6" r="2.9"/>
<circle cx="1008.3" cy="872.2" r="2.9"/>
<circle cx="1009.7" cy="874.5" r="2.9"/>
<circle cx="1003.8" cy="881.0" r="2.9"/>
<circle cx="1007.3" cy="843.7" r="2.9"/>
<circle cx="1002.2" cy="880.6" r="2.9"/>
<circle cx="1016.7" cy="864.7" r="2.9"/>
<circle cx="1007.8" cy="892.5" r="2.9"/>
<circle cx="1002.8" cy="876.4" r="2.9"/>
<circle cx="1010.7" cy="835.0" r="2.9"/>
<circle cx="1004.9" cy="877.9" r="2.9"/>
<circle cx="1008.8" cy="876.9" r="2.9"/>
<circle cx="1008.3" cy="886.0" r="2.9"/>
<circle cx="1009.9" cy="867.4" r="2.9"/>
<circle cx="1008.8" cy="885.3" r="2.9"/>
<circle cx="1005.7" cy="856.1" r="2.9"/>
</g>
<path d="M173.30 88.38 V387.50 H471.50" fill="none" stroke="#3a3a3a" stroke-width="2"/>
<line x1="168.80" y1="364.80" x2="173.30" y2="364.80" stroke="#3a3a3a" stroke-width="1.6" />
<line x1="196.10" y1="387.50" x2="196.10" y2="392.00" stroke="#3a3a3a" stroke-width="1.6" />
<line x1="168.80" y1="226.59" x2="173.30" y2="226.59" stroke="#3a3a3a" stroke-width="1.6" />
<line x1="333.80" y1="387.50" x2="333.80" y2="392.00" stroke="#3a3a3a" stroke-width="1.6" />
<line x1="168.80" y1="88.38" x2="173.30" y2="88.38" stroke="#3a3a3a" stroke-width="1.6" />
<line x1="471.50" y1="387.50" x2="471.50" y2="392.00" stroke="#3a3a3a" stroke-width="1.6" />
<line x1="173.15" y1="387.84" x2="471.50" y2="88.38" stroke="#000" stroke-width="2.1" stroke-dasharray="3.2 9.2" stroke-dashoffset="8"/>
<path d="M571.00 88.38 V387.50 H869.40" fill="none" stroke="#3a3a3a" stroke-width="2"/>
<line x1="566.50" y1="364.80" x2="571.00" y2="364.80" stroke="#3a3a3a" stroke-width="1.6" />
<line x1="594.00" y1="387.50" x2="594.00" y2="392.00" stroke="#3a3a3a" stroke-width="1.6" />
<line x1="566.50" y1="226.59" x2="571.00" y2="226.59" stroke="#3a3a3a" stroke-width="1.6" />
<line x1="731.70" y1="387.50" x2="731.70" y2="392.00" stroke="#3a3a3a" stroke-width="1.6" />
<line x1="566.50" y1="88.38" x2="571.00" y2="88.38" stroke="#3a3a3a" stroke-width="1.6" />
<line x1="869.40" y1="387.50" x2="869.40" y2="392.00" stroke="#3a3a3a" stroke-width="1.6" />
<line x1="571.05" y1="387.84" x2="869.40" y2="88.38" stroke="#000" stroke-width="2.1" stroke-dasharray="3.2 9.2" stroke-dashoffset="8"/>
<path d="M970.70 88.38 V387.50 H1269.40" fill="none" stroke="#3a3a3a" stroke-width="2"/>
<line x1="966.20" y1="364.80" x2="970.70" y2="364.80" stroke="#3a3a3a" stroke-width="1.6" />
<line x1="994.00" y1="387.50" x2="994.00" y2="392.00" stroke="#3a3a3a" stroke-width="1.6" />
<line x1="966.20" y1="226.59" x2="970.70" y2="226.59" stroke="#3a3a3a" stroke-width="1.6" />
<line x1="1131.70" y1="387.50" x2="1131.70" y2="392.00" stroke="#3a3a3a" stroke-width="1.6" />
<line x1="966.20" y1="88.38" x2="970.70" y2="88.38" stroke="#3a3a3a" stroke-width="1.6" />
<line x1="1269.40" y1="387.50" x2="1269.40" y2="392.00" stroke="#3a3a3a" stroke-width="1.6" />
<line x1="971.05" y1="387.84" x2="1269.40" y2="88.38" stroke="#000" stroke-width="2.1" stroke-dasharray="3.2 9.2" stroke-dashoffset="8"/>
<path d="M173.10 630.88 V928.60 H471.52" fill="none" stroke="#3a3a3a" stroke-width="2"/>
<line x1="168.60" y1="895.80" x2="173.10" y2="895.80" stroke="#3a3a3a" stroke-width="1.6" />
<line x1="206.60" y1="928.60" x2="206.60" y2="933.10" stroke="#3a3a3a" stroke-width="1.6" />
<line x1="168.60" y1="763.34" x2="173.10" y2="763.34" stroke="#3a3a3a" stroke-width="1.6" />
<line x1="339.06" y1="928.60" x2="339.06" y2="933.10" stroke="#3a3a3a" stroke-width="1.6" />
<line x1="168.60" y1="630.88" x2="173.10" y2="630.88" stroke="#3a3a3a" stroke-width="1.6" />
<line x1="471.52" y1="928.60" x2="471.52" y2="933.10" stroke="#3a3a3a" stroke-width="1.6" />
<line x1="173.48" y1="928.91" x2="471.52" y2="630.88" stroke="#000" stroke-width="2.1" stroke-dasharray="3.2 9.2" stroke-dashoffset="8"/>
<path d="M571.00 630.88 V928.60 H869.02" fill="none" stroke="#3a3a3a" stroke-width="2"/>
<line x1="566.50" y1="895.80" x2="571.00" y2="895.80" stroke="#3a3a3a" stroke-width="1.6" />
<line x1="604.10" y1="928.60" x2="604.10" y2="933.10" stroke="#3a3a3a" stroke-width="1.6" />
<line x1="566.50" y1="763.34" x2="571.00" y2="763.34" stroke="#3a3a3a" stroke-width="1.6" />
<line x1="736.56" y1="928.60" x2="736.56" y2="933.10" stroke="#3a3a3a" stroke-width="1.6" />
<line x1="566.50" y1="630.88" x2="571.00" y2="630.88" stroke="#3a3a3a" stroke-width="1.6" />
<line x1="869.02" y1="928.60" x2="869.02" y2="933.10" stroke="#3a3a3a" stroke-width="1.6" />
<line x1="570.99" y1="928.91" x2="869.02" y2="630.88" stroke="#000" stroke-width="2.1" stroke-dasharray="3.2 9.2" stroke-dashoffset="8"/>
<path d="M971.10 630.88 V928.60 H1269.42" fill="none" stroke="#3a3a3a" stroke-width="2"/>
<line x1="966.60" y1="895.80" x2="971.10" y2="895.80" stroke="#3a3a3a" stroke-width="1.6" />
<line x1="1004.50" y1="928.60" x2="1004.50" y2="933.10" stroke="#3a3a3a" stroke-width="1.6" />
<line x1="966.60" y1="763.34" x2="971.10" y2="763.34" stroke="#3a3a3a" stroke-width="1.6" />
<line x1="1136.96" y1="928.60" x2="1136.96" y2="933.10" stroke="#3a3a3a" stroke-width="1.6" />
<line x1="966.60" y1="630.88" x2="971.10" y2="630.88" stroke="#3a3a3a" stroke-width="1.6" />
<line x1="1269.42" y1="928.60" x2="1269.42" y2="933.10" stroke="#3a3a3a" stroke-width="1.6" />
<line x1="971.38" y1="928.91" x2="1269.42" y2="630.88" stroke="#000" stroke-width="2.1" stroke-dasharray="3.2 9.2" stroke-dashoffset="8"/>
<text x="116.43" y="101.17" font-size="34" textLength="47.26" lengthAdjust="spacingAndGlyphs" fill="#1e1e1e" stroke="#1e1e1e" stroke-width="0.45">0.6</text>
<text x="115.83" y="238.67" font-size="34" textLength="47.26" lengthAdjust="spacingAndGlyphs" fill="#1e1e1e" stroke="#1e1e1e" stroke-width="0.45">0.3</text>
<text x="146.22" y="376.57" font-size="34" textLength="18.91" lengthAdjust="spacingAndGlyphs" fill="#1e1e1e" stroke="#1e1e1e" stroke-width="0.45">0</text>
<text x="189.15" y="422.27" font-size="34" textLength="18.91" lengthAdjust="spacingAndGlyphs" fill="#1e1e1e" stroke="#1e1e1e" stroke-width="0.45">0</text>
<text x="308.45" y="422.07" font-size="34" textLength="47.26" lengthAdjust="spacingAndGlyphs" fill="#1e1e1e" stroke="#1e1e1e" stroke-width="0.45">0.3</text>
<text x="446.45" y="422.07" font-size="34" textLength="47.26" lengthAdjust="spacingAndGlyphs" fill="#1e1e1e" stroke="#1e1e1e" stroke-width="0.45">0.6</text>
<text x="514.13" y="101.17" font-size="34" textLength="47.26" lengthAdjust="spacingAndGlyphs" fill="#1e1e1e" stroke="#1e1e1e" stroke-width="0.45">0.6</text>
<text x="513.53" y="238.67" font-size="34" textLength="47.26" lengthAdjust="spacingAndGlyphs" fill="#1e1e1e" stroke="#1e1e1e" stroke-width="0.45">0.3</text>
<text x="543.92" y="376.57" font-size="34" textLength="18.91" lengthAdjust="spacingAndGlyphs" fill="#1e1e1e" stroke="#1e1e1e" stroke-width="0.45">0</text>
<text x="587.05" y="422.27" font-size="34" textLength="18.91" lengthAdjust="spacingAndGlyphs" fill="#1e1e1e" stroke="#1e1e1e" stroke-width="0.45">0</text>
<text x="706.35" y="422.07" font-size="34" textLength="47.26" lengthAdjust="spacingAndGlyphs" fill="#1e1e1e" stroke="#1e1e1e" stroke-width="0.45">0.3</text>
<text x="844.35" y="422.07" font-size="34" textLength="47.26" lengthAdjust="spacingAndGlyphs" fill="#1e1e1e" stroke="#1e1e1e" stroke-width="0.45">0.6</text>
<text x="913.83" y="101.17" font-size="34" textLength="47.26" lengthAdjust="spacingAndGlyphs" fill="#1e1e1e" stroke="#1e1e1e" stroke-width="0.45">0.6</text>
<text x="913.23" y="238.67" font-size="34" textLength="47.26" lengthAdjust="spacingAndGlyphs" fill="#1e1e1e" stroke="#1e1e1e" stroke-width="0.45">0.3</text>
<text x="943.62" y="376.57" font-size="34" textLength="18.91" lengthAdjust="spacingAndGlyphs" fill="#1e1e1e" stroke="#1e1e1e" stroke-width="0.45">0</text>
<text x="987.05" y="422.27" font-size="34" textLength="18.91" lengthAdjust="spacingAndGlyphs" fill="#1e1e1e" stroke="#1e1e1e" stroke-width="0.45">0</text>
<text x="1106.35" y="422.07" font-size="34" textLength="47.26" lengthAdjust="spacingAndGlyphs" fill="#1e1e1e" stroke="#1e1e1e" stroke-width="0.45">0.3</text>
<text x="1244.35" y="422.07" font-size="34" textLength="47.26" lengthAdjust="spacingAndGlyphs" fill="#1e1e1e" stroke="#1e1e1e" stroke-width="0.45">0.6</text>
<text x="114.83" y="642.37" font-size="34" textLength="47.26" lengthAdjust="spacingAndGlyphs" fill="#1e1e1e" stroke="#1e1e1e" stroke-width="0.45">0.4</text>
<text x="115.55" y="776.07" font-size="34" textLength="47.26" lengthAdjust="spacingAndGlyphs" fill="#1e1e1e" stroke="#1e1e1e" stroke-width="0.45">0.2</text>
<text x="143.72" y="907.17" font-size="34" textLength="18.91" lengthAdjust="spacingAndGlyphs" fill="#1e1e1e" stroke="#1e1e1e" stroke-width="0.45">0</text>
<text x="198.85" y="963.57" font-size="34" textLength="18.91" lengthAdjust="spacingAndGlyphs" fill="#1e1e1e" stroke="#1e1e1e" stroke-width="0.45">0</text>
<text x="313.92" y="963.57" font-size="34" textLength="47.26" lengthAdjust="spacingAndGlyphs" fill="#1e1e1e" stroke="#1e1e1e" stroke-width="0.45">0.2</text>
<text x="446.12" y="963.57" font-size="34" textLength="47.26" lengthAdjust="spacingAndGlyphs" fill="#1e1e1e" stroke="#1e1e1e" stroke-width="0.45">0.4</text>
<text x="512.73" y="642.37" font-size="34" textLength="47.26" lengthAdjust="spacingAndGlyphs" fill="#1e1e1e" stroke="#1e1e1e" stroke-width="0.45">0.4</text>
<text x="513.45" y="776.07" font-size="34" textLength="47.26" lengthAdjust="spacingAndGlyphs" fill="#1e1e1e" stroke="#1e1e1e" stroke-width="0.45">0.2</text>
<text x="541.62" y="907.17" font-size="34" textLength="18.91" lengthAdjust="spacingAndGlyphs" fill="#1e1e1e" stroke="#1e1e1e" stroke-width="0.45">0</text>
<text x="596.35" y="963.57" font-size="34" textLength="18.91" lengthAdjust="spacingAndGlyphs" fill="#1e1e1e" stroke="#1e1e1e" stroke-width="0.45">0</text>
<text x="711.42" y="963.57" font-size="34" textLength="47.26" lengthAdjust="spacingAndGlyphs" fill="#1e1e1e" stroke="#1e1e1e" stroke-width="0.45">0.2</text>
<text x="843.62" y="963.57" font-size="34" textLength="47.26" lengthAdjust="spacingAndGlyphs" fill="#1e1e1e" stroke="#1e1e1e" stroke-width="0.45">0.4</text>
<text x="912.83" y="642.37" font-size="34" textLength="47.26" lengthAdjust="spacingAndGlyphs" fill="#1e1e1e" stroke="#1e1e1e" stroke-width="0.45">0.4</text>
<text x="913.55" y="776.07" font-size="34" textLength="47.26" lengthAdjust="spacingAndGlyphs" fill="#1e1e1e" stroke="#1e1e1e" stroke-width="0.45">0.2</text>
<text x="941.72" y="907.17" font-size="34" textLength="18.91" lengthAdjust="spacingAndGlyphs" fill="#1e1e1e" stroke="#1e1e1e" stroke-width="0.45">0</text>
<text x="996.75" y="963.57" font-size="34" textLength="18.91" lengthAdjust="spacingAndGlyphs" fill="#1e1e1e" stroke="#1e1e1e" stroke-width="0.45">0</text>
<text x="1111.82" y="963.57" font-size="34" textLength="47.26" lengthAdjust="spacingAndGlyphs" fill="#1e1e1e" stroke="#1e1e1e" stroke-width="0.45">0.2</text>
<text x="1244.02" y="963.57" font-size="34" textLength="47.26" lengthAdjust="spacingAndGlyphs" fill="#1e1e1e" stroke="#1e1e1e" stroke-width="0.45">0.4</text>
<text x="279.95" y="467.00" font-size="34" textLength="123.40" lengthAdjust="spacingAndGlyphs" fill="#1e1e1e" stroke="#1e1e1e" stroke-width="0.45">Position</text>
<text x="211.04" y="504.60" font-size="34" textLength="250.15" lengthAdjust="spacingAndGlyphs" fill="#1e1e1e" stroke="#1e1e1e" stroke-width="0.45">model pseudo-R</text>
<text x="460.91" y="491.70" font-size="19.5" textLength="10.99" lengthAdjust="spacingAndGlyphs" fill="#1e1e1e" stroke="#1e1e1e" stroke-width="0.45">2</text>
<text x="682.55" y="466.40" font-size="34" textLength="121.62" lengthAdjust="spacingAndGlyphs" fill="#1e1e1e" stroke="#1e1e1e" stroke-width="0.45">Velocity</text>
<text x="612.53" y="504.60" font-size="34" textLength="250.55" lengthAdjust="spacingAndGlyphs" fill="#1e1e1e" stroke="#1e1e1e" stroke-width="0.45">model pseudo-R</text>
<text x="862.81" y="491.70" font-size="19.5" textLength="10.99" lengthAdjust="spacingAndGlyphs" fill="#1e1e1e" stroke="#1e1e1e" stroke-width="0.45">2</text>
<text x="1046.93" y="467.00" font-size="34" textLength="189.50" lengthAdjust="spacingAndGlyphs" fill="#1e1e1e" stroke="#1e1e1e" stroke-width="0.45">Acceleration</text>
<text x="1011.23" y="504.60" font-size="34" textLength="250.35" lengthAdjust="spacingAndGlyphs" fill="#1e1e1e" stroke="#1e1e1e" stroke-width="0.45">model pseudo-R</text>
<text x="1261.31" y="491.70" font-size="19.5" textLength="10.99" lengthAdjust="spacingAndGlyphs" fill="#1e1e1e" stroke="#1e1e1e" stroke-width="0.45">2</text>
<text x="279.95" y="1007.80" font-size="34" textLength="123.40" lengthAdjust="spacingAndGlyphs" fill="#1e1e1e" stroke="#1e1e1e" stroke-width="0.45">Position</text>
<text x="211.04" y="1045.40" font-size="34" textLength="250.15" lengthAdjust="spacingAndGlyphs" fill="#1e1e1e" stroke="#1e1e1e" stroke-width="0.45">model pseudo-R</text>
<text x="460.91" y="1032.50" font-size="19.5" textLength="10.99" lengthAdjust="spacingAndGlyphs" fill="#1e1e1e" stroke="#1e1e1e" stroke-width="0.45">2</text>
<text x="682.55" y="1007.20" font-size="34" textLength="121.62" lengthAdjust="spacingAndGlyphs" fill="#1e1e1e" stroke="#1e1e1e" stroke-width="0.45">Velocity</text>
<text x="612.53" y="1045.40" font-size="34" textLength="250.55" lengthAdjust="spacingAndGlyphs" fill="#1e1e1e" stroke="#1e1e1e" stroke-width="0.45">model pseudo-R</text>
<text x="862.81" y="1032.50" font-size="19.5" textLength="10.99" lengthAdjust="spacingAndGlyphs" fill="#1e1e1e" stroke="#1e1e1e" stroke-width="0.45">2</text>
<text x="1046.93" y="1007.80" font-size="34" textLength="189.50" lengthAdjust="spacingAndGlyphs" fill="#1e1e1e" stroke="#1e1e1e" stroke-width="0.45">Acceleration</text>
<text x="1011.23" y="1045.40" font-size="34" textLength="250.35" lengthAdjust="spacingAndGlyphs" fill="#1e1e1e" stroke="#1e1e1e" stroke-width="0.45">model pseudo-R</text>
<text x="1261.31" y="1032.50" font-size="19.5" textLength="10.99" lengthAdjust="spacingAndGlyphs" fill="#1e1e1e" stroke="#1e1e1e" stroke-width="0.45">2</text>
<text transform="translate(57.30,334.50) rotate(-90)" x="-2.81" y="0" font-size="34" textLength="226.65" lengthAdjust="spacingAndGlyphs" fill="#1e1e1e" stroke="#1e1e1e" stroke-width="0.45">Full kinematics</text>
<text transform="translate(95.00,352.00) rotate(-90)" x="-2.27" y="0" font-size="34" textLength="250.55" lengthAdjust="spacingAndGlyphs" fill="#1e1e1e" stroke="#1e1e1e" stroke-width="0.45">model pseudo-R</text>
<text transform="translate(82.10,102.70) rotate(-90)" x="-0.99" y="0" font-size="19.5" textLength="10.99" lengthAdjust="spacingAndGlyphs" fill="#1e1e1e" stroke="#1e1e1e" stroke-width="0.3">2</text>
<text transform="translate(57.30,876.50) rotate(-90)" x="-2.81" y="0" font-size="34" textLength="226.65" lengthAdjust="spacingAndGlyphs" fill="#1e1e1e" stroke="#1e1e1e" stroke-width="0.45">Full kinematics</text>
<text transform="translate(95.00,894.00) rotate(-90)" x="-2.27" y="0" font-size="34" textLength="250.55" lengthAdjust="spacingAndGlyphs" fill="#1e1e1e" stroke="#1e1e1e" stroke-width="0.45">model pseudo-R</text>
<text transform="translate(82.10,644.70) rotate(-90)" x="-0.99" y="0" font-size="19.5" textLength="10.99" lengthAdjust="spacingAndGlyphs" fill="#1e1e1e" stroke="#1e1e1e" stroke-width="0.3">2</text>
<path d="M162.10 1254.90 V1592 H676.80" fill="none" stroke="#111" stroke-width="2.2"/>
<line x1="157.10" y1="1555.10" x2="162.10" y2="1555.10" stroke="#111" stroke-width="2" />
<line x1="157.10" y1="1505.05" x2="162.10" y2="1505.05" stroke="#111" stroke-width="2" />
<line x1="157.10" y1="1455.00" x2="162.10" y2="1455.00" stroke="#111" stroke-width="2" />
<line x1="157.10" y1="1404.95" x2="162.10" y2="1404.95" stroke="#111" stroke-width="2" />
<line x1="157.10" y1="1354.90" x2="162.10" y2="1354.90" stroke="#111" stroke-width="2" />
<line x1="157.10" y1="1304.85" x2="162.10" y2="1304.85" stroke="#111" stroke-width="2" />
<line x1="157.10" y1="1254.80" x2="162.10" y2="1254.80" stroke="#111" stroke-width="2" />
<line x1="221.10" y1="1592.00" x2="221.10" y2="1598.50" stroke="#111" stroke-width="2" />
<line x1="316.10" y1="1592.00" x2="316.10" y2="1598.50" stroke="#111" stroke-width="2" />
<line x1="414.80" y1="1592.00" x2="414.80" y2="1598.50" stroke="#111" stroke-width="2" />
<line x1="513.20" y1="1592.00" x2="513.20" y2="1598.50" stroke="#111" stroke-width="2" />
<line x1="612.10" y1="1592.00" x2="612.10" y2="1598.50" stroke="#111" stroke-width="2" />
<path d="M787.30 1255.00 V1592 H1302.00" fill="none" stroke="#111" stroke-width="2.2"/>
<line x1="782.30" y1="1554.60" x2="787.30" y2="1554.60" stroke="#111" stroke-width="2" />
<line x1="782.30" y1="1479.75" x2="787.30" y2="1479.75" stroke="#111" stroke-width="2" />
<line x1="782.30" y1="1404.90" x2="787.30" y2="1404.90" stroke="#111" stroke-width="2" />
<line x1="782.30" y1="1330.05" x2="787.30" y2="1330.05" stroke="#111" stroke-width="2" />
<line x1="782.30" y1="1255.20" x2="787.30" y2="1255.20" stroke="#111" stroke-width="2" />
<line x1="846.00" y1="1592.00" x2="846.00" y2="1598.50" stroke="#111" stroke-width="2" />
<line x1="941.30" y1="1592.00" x2="941.30" y2="1598.50" stroke="#111" stroke-width="2" />
<line x1="1039.30" y1="1592.00" x2="1039.30" y2="1598.50" stroke="#111" stroke-width="2" />
<line x1="1138.50" y1="1592.00" x2="1138.50" y2="1598.50" stroke="#111" stroke-width="2" />
<line x1="1237.30" y1="1592.00" x2="1237.30" y2="1598.50" stroke="#111" stroke-width="2" />
<line x1="202.25" y1="1297.30" x2="202.25" y2="1392.70" stroke="#111" stroke-width="2" />
<line x1="202.25" y1="1519.20" x2="202.25" y2="1549.10" stroke="#111" stroke-width="2" />
<line x1="195.25" y1="1297.30" x2="209.25" y2="1297.30" stroke="#111" stroke-width="2.2" />
<line x1="195.25" y1="1549.10" x2="209.25" y2="1549.10" stroke="#111" stroke-width="2.2" />
<rect x="187.60" y="1392.70" width="29.30" height="126.50" fill="#f1757b" stroke="#111" stroke-width="2.2"/>
<line x1="187.60" y1="1470.90" x2="216.90" y2="1470.90" stroke="#111" stroke-width="2.2" />
<line x1="239.45" y1="1498.20" x2="239.45" y2="1539.70" stroke="#111" stroke-width="2" />
<line x1="239.45" y1="1555.70" x2="239.45" y2="1567.30" stroke="#111" stroke-width="2" />
<line x1="232.45" y1="1498.20" x2="246.45" y2="1498.20" stroke="#111" stroke-width="2.2" />
<line x1="232.45" y1="1567.30" x2="246.45" y2="1567.30" stroke="#111" stroke-width="2.2" />
<rect x="224.50" y="1539.70" width="29.90" height="16.00" fill="#6cc393" stroke="#111" stroke-width="2.2"/>
<line x1="224.50" y1="1552.10" x2="254.40" y2="1552.10" stroke="#111" stroke-width="2.2" />
<line x1="297.80" y1="1372.90" x2="297.80" y2="1476.00" stroke="#111" stroke-width="2" />
<line x1="297.80" y1="1545.30" x2="297.80" y2="1555.70" stroke="#111" stroke-width="2" />
<line x1="290.80" y1="1372.90" x2="304.80" y2="1372.90" stroke="#111" stroke-width="2.2" />
<line x1="290.80" y1="1555.70" x2="304.80" y2="1555.70" stroke="#111" stroke-width="2.2" />
<rect x="282.80" y="1476.00" width="30.00" height="69.30" fill="#f1757b" stroke="#111" stroke-width="2.2"/>
<line x1="282.80" y1="1522.60" x2="312.80" y2="1522.60" stroke="#111" stroke-width="2.2" />
<line x1="335.50" y1="1527.20" x2="335.50" y2="1550.70" stroke="#111" stroke-width="2" />
<line x1="335.50" y1="1557.30" x2="335.50" y2="1566.30" stroke="#111" stroke-width="2" />
<line x1="328.50" y1="1527.20" x2="342.50" y2="1527.20" stroke="#111" stroke-width="2.2" />
<line x1="328.50" y1="1566.30" x2="342.50" y2="1566.30" stroke="#111" stroke-width="2.2" />
<rect x="320.30" y="1550.70" width="30.40" height="6.60" fill="#6cc393" stroke="#111" stroke-width="2.2"/>
<line x1="320.30" y1="1553.30" x2="350.70" y2="1553.30" stroke="#111" stroke-width="2.2" />
<line x1="396.30" y1="1422.50" x2="396.30" y2="1511.80" stroke="#111" stroke-width="2" />
<line x1="396.30" y1="1552.70" x2="396.30" y2="1563.70" stroke="#111" stroke-width="2" />
<line x1="389.30" y1="1422.50" x2="403.30" y2="1422.50" stroke="#111" stroke-width="2.2" />
<line x1="389.30" y1="1563.70" x2="403.30" y2="1563.70" stroke="#111" stroke-width="2.2" />
<rect x="381.60" y="1511.80" width="29.40" height="40.90" fill="#f1757b" stroke="#111" stroke-width="2.2"/>
<line x1="381.60" y1="1539.10" x2="411.00" y2="1539.10" stroke="#111" stroke-width="2.2" />
<line x1="434.15" y1="1512.20" x2="434.15" y2="1551.00" stroke="#111" stroke-width="2" />
<line x1="434.15" y1="1557.60" x2="434.15" y2="1567.10" stroke="#111" stroke-width="2" />
<line x1="427.15" y1="1512.20" x2="441.15" y2="1512.20" stroke="#111" stroke-width="2.2" />
<line x1="427.15" y1="1567.10" x2="441.15" y2="1567.10" stroke="#111" stroke-width="2.2" />
<rect x="419.00" y="1551.00" width="30.30" height="6.60" fill="#6cc393" stroke="#111" stroke-width="2.2"/>
<line x1="419.00" y1="1554.60" x2="449.30" y2="1554.60" stroke="#111" stroke-width="2.2" />
<line x1="494.55" y1="1329.50" x2="494.55" y2="1446.70" stroke="#111" stroke-width="2" />
<line x1="494.55" y1="1536.60" x2="494.55" y2="1555.00" stroke="#111" stroke-width="2" />
<line x1="487.55" y1="1329.50" x2="501.55" y2="1329.50" stroke="#111" stroke-width="2.2" />
<line x1="487.55" y1="1555.00" x2="501.55" y2="1555.00" stroke="#111" stroke-width="2.2" />
<rect x="479.90" y="1446.70" width="29.30" height="89.90" fill="#f1757b" stroke="#111" stroke-width="2.2"/>
<line x1="479.90" y1="1507.00" x2="509.20" y2="1507.00" stroke="#111" stroke-width="2.2" />
<line x1="532.80" y1="1509.00" x2="532.80" y2="1546.20" stroke="#111" stroke-width="2" />
<line x1="532.80" y1="1557.20" x2="532.80" y2="1565.50" stroke="#111" stroke-width="2" />
<line x1="525.80" y1="1509.00" x2="539.80" y2="1509.00" stroke="#111" stroke-width="2.2" />
<line x1="525.80" y1="1565.50" x2="539.80" y2="1565.50" stroke="#111" stroke-width="2.2" />
<rect x="517.80" y="1546.20" width="30.00" height="11.00" fill="#6cc393" stroke="#111" stroke-width="2.2"/>
<line x1="517.80" y1="1554.00" x2="547.80" y2="1554.00" stroke="#111" stroke-width="2.2" />
<line x1="593.40" y1="1338.30" x2="593.40" y2="1431.20" stroke="#111" stroke-width="2" />
<line x1="593.40" y1="1532.60" x2="593.40" y2="1553.20" stroke="#111" stroke-width="2" />
<line x1="586.40" y1="1338.30" x2="600.40" y2="1338.30" stroke="#111" stroke-width="2.2" />
<line x1="586.40" y1="1553.20" x2="600.40" y2="1553.20" stroke="#111" stroke-width="2.2" />
<rect x="578.70" y="1431.20" width="29.40" height="101.40" fill="#f1757b" stroke="#111" stroke-width="2.2"/>
<line x1="578.70" y1="1492.70" x2="608.10" y2="1492.70" stroke="#111" stroke-width="2.2" />
<line x1="631.80" y1="1502.20" x2="631.80" y2="1542.20" stroke="#111" stroke-width="2" />
<line x1="631.80" y1="1556.20" x2="631.80" y2="1567.00" stroke="#111" stroke-width="2" />
<line x1="624.80" y1="1502.20" x2="638.80" y2="1502.20" stroke="#111" stroke-width="2.2" />
<line x1="624.80" y1="1567.00" x2="638.80" y2="1567.00" stroke="#111" stroke-width="2.2" />
<rect x="617.00" y="1542.20" width="29.60" height="14.00" fill="#6cc393" stroke="#111" stroke-width="2.2"/>
<line x1="617.00" y1="1551.60" x2="646.60" y2="1551.60" stroke="#111" stroke-width="2.2" />
<line x1="827.65" y1="1297.60" x2="827.65" y2="1440.30" stroke="#111" stroke-width="2" />
<line x1="827.65" y1="1532.20" x2="827.65" y2="1557.60" stroke="#111" stroke-width="2" />
<line x1="820.65" y1="1297.60" x2="834.65" y2="1297.60" stroke="#111" stroke-width="2.2" />
<line x1="820.65" y1="1557.60" x2="834.65" y2="1557.60" stroke="#111" stroke-width="2.2" />
<rect x="813.00" y="1440.30" width="29.30" height="91.90" fill="#f1757b" stroke="#111" stroke-width="2.2"/>
<line x1="813.00" y1="1505.60" x2="842.30" y2="1505.60" stroke="#111" stroke-width="2.2" />
<line x1="864.55" y1="1403.20" x2="864.55" y2="1516.20" stroke="#111" stroke-width="2" />
<line x1="864.55" y1="1552.60" x2="864.55" y2="1569.50" stroke="#111" stroke-width="2" />
<line x1="857.55" y1="1403.20" x2="871.55" y2="1403.20" stroke="#111" stroke-width="2.2" />
<line x1="857.55" y1="1569.50" x2="871.55" y2="1569.50" stroke="#111" stroke-width="2.2" />
<rect x="849.90" y="1516.20" width="29.30" height="36.40" fill="#6cc393" stroke="#111" stroke-width="2.2"/>
<line x1="849.90" y1="1544.60" x2="879.20" y2="1544.60" stroke="#111" stroke-width="2.2" />
<line x1="922.75" y1="1429.80" x2="922.75" y2="1515.60" stroke="#111" stroke-width="2" />
<line x1="922.75" y1="1550.20" x2="922.75" y2="1560.00" stroke="#111" stroke-width="2" />
<line x1="915.75" y1="1429.80" x2="929.75" y2="1429.80" stroke="#111" stroke-width="2.2" />
<line x1="915.75" y1="1560.00" x2="929.75" y2="1560.00" stroke="#111" stroke-width="2.2" />
<rect x="908.20" y="1515.60" width="29.10" height="34.60" fill="#f1757b" stroke="#111" stroke-width="2.2"/>
<line x1="908.20" y1="1539.20" x2="937.30" y2="1539.20" stroke="#111" stroke-width="2.2" />
<line x1="960.50" y1="1487.30" x2="960.50" y2="1541.60" stroke="#111" stroke-width="2" />
<line x1="960.50" y1="1556.00" x2="960.50" y2="1572.10" stroke="#111" stroke-width="2" />
<line x1="953.50" y1="1487.30" x2="967.50" y2="1487.30" stroke="#111" stroke-width="2.2" />
<line x1="953.50" y1="1572.10" x2="967.50" y2="1572.10" stroke="#111" stroke-width="2.2" />
<rect x="945.70" y="1541.60" width="29.60" height="14.40" fill="#6cc393" stroke="#111" stroke-width="2.2"/>
<line x1="945.70" y1="1553.20" x2="975.30" y2="1553.20" stroke="#111" stroke-width="2.2" />
<line x1="1021.40" y1="1490.00" x2="1021.40" y2="1535.00" stroke="#111" stroke-width="2" />
<line x1="1021.40" y1="1554.00" x2="1021.40" y2="1560.60" stroke="#111" stroke-width="2" />
<line x1="1014.40" y1="1490.00" x2="1028.40" y2="1490.00" stroke="#111" stroke-width="2.2" />
<line x1="1014.40" y1="1560.60" x2="1028.40" y2="1560.60" stroke="#111" stroke-width="2.2" />
<rect x="1006.60" y="1535.00" width="29.60" height="19.00" fill="#f1757b" stroke="#111" stroke-width="2.2"/>
<line x1="1006.60" y1="1546.60" x2="1036.20" y2="1546.60" stroke="#111" stroke-width="2.2" />
<line x1="1059.45" y1="1482.20" x2="1059.45" y2="1544.30" stroke="#111" stroke-width="2" />
<line x1="1059.45" y1="1556.20" x2="1059.45" y2="1567.90" stroke="#111" stroke-width="2" />
<line x1="1052.45" y1="1482.20" x2="1066.45" y2="1482.20" stroke="#111" stroke-width="2.2" />
<line x1="1052.45" y1="1567.90" x2="1066.45" y2="1567.90" stroke="#111" stroke-width="2.2" />
<rect x="1044.60" y="1544.30" width="29.70" height="11.90" fill="#6cc393" stroke="#111" stroke-width="2.2"/>
<line x1="1044.60" y1="1552.60" x2="1074.30" y2="1552.60" stroke="#111" stroke-width="2.2" />
<line x1="1119.60" y1="1385.10" x2="1119.60" y2="1497.30" stroke="#111" stroke-width="2" />
<line x1="1119.60" y1="1545.30" x2="1119.60" y2="1558.90" stroke="#111" stroke-width="2" />
<line x1="1112.60" y1="1385.10" x2="1126.60" y2="1385.10" stroke="#111" stroke-width="2.2" />
<line x1="1112.60" y1="1558.90" x2="1126.60" y2="1558.90" stroke="#111" stroke-width="2.2" />
<rect x="1104.80" y="1497.30" width="29.60" height="48.00" fill="#f1757b" stroke="#111" stroke-width="2.2"/>
<line x1="1104.80" y1="1529.00" x2="1134.40" y2="1529.00" stroke="#111" stroke-width="2.2" />
<line x1="1158.15" y1="1449.20" x2="1158.15" y2="1535.90" stroke="#111" stroke-width="2" />
<line x1="1158.15" y1="1554.70" x2="1158.15" y2="1568.90" stroke="#111" stroke-width="2" />
<line x1="1151.15" y1="1449.20" x2="1165.15" y2="1449.20" stroke="#111" stroke-width="2.2" />
<line x1="1151.15" y1="1568.90" x2="1165.15" y2="1568.90" stroke="#111" stroke-width="2.2" />
<rect x="1143.20" y="1535.90" width="29.90" height="18.80" fill="#6cc393" stroke="#111" stroke-width="2.2"/>
<line x1="1143.20" y1="1550.50" x2="1173.10" y2="1550.50" stroke="#111" stroke-width="2.2" />
<line x1="1218.20" y1="1344.10" x2="1218.20" y2="1459.20" stroke="#111" stroke-width="2" />
<line x1="1218.20" y1="1541.70" x2="1218.20" y2="1555.70" stroke="#111" stroke-width="2" />
<line x1="1211.20" y1="1344.10" x2="1225.20" y2="1344.10" stroke="#111" stroke-width="2.2" />
<line x1="1211.20" y1="1555.70" x2="1225.20" y2="1555.70" stroke="#111" stroke-width="2.2" />
<rect x="1203.40" y="1459.20" width="29.60" height="82.50" fill="#f1757b" stroke="#111" stroke-width="2.2"/>
<line x1="1203.40" y1="1521.70" x2="1233.00" y2="1521.70" stroke="#111" stroke-width="2.2" />
<line x1="1256.95" y1="1436.70" x2="1256.95" y2="1524.00" stroke="#111" stroke-width="2" />
<line x1="1256.95" y1="1554.30" x2="1256.95" y2="1569.30" stroke="#111" stroke-width="2" />
<line x1="1249.95" y1="1436.70" x2="1263.95" y2="1436.70" stroke="#111" stroke-width="2.2" />
<line x1="1249.95" y1="1569.30" x2="1263.95" y2="1569.30" stroke="#111" stroke-width="2.2" />
<rect x="1242.00" y="1524.00" width="29.90" height="30.30" fill="#6cc393" stroke="#111" stroke-width="2.2"/>
<line x1="1242.00" y1="1548.40" x2="1271.90" y2="1548.40" stroke="#111" stroke-width="2.2" />
<text x="104.03" y="1264.17" font-size="34" textLength="47.26" lengthAdjust="spacingAndGlyphs" fill="#1e1e1e" stroke="#1e1e1e" stroke-width="0.45">0.6</text>
<text x="131.62" y="1567.87" font-size="34" textLength="18.91" lengthAdjust="spacingAndGlyphs" fill="#1e1e1e" stroke="#1e1e1e" stroke-width="0.45">0</text>
<text x="728.63" y="1264.27" font-size="34" textLength="47.26" lengthAdjust="spacingAndGlyphs" fill="#1e1e1e" stroke="#1e1e1e" stroke-width="0.45">0.4</text>
<text x="756.72" y="1568.07" font-size="34" textLength="18.91" lengthAdjust="spacingAndGlyphs" fill="#1e1e1e" stroke="#1e1e1e" stroke-width="0.45">0</text>
<text x="1141.85" y="1284.20" font-size="34" textLength="55.66" lengthAdjust="spacingAndGlyphs" fill="#d3223a" stroke="#d3223a" stroke-width="0.45">DLS</text>
<text x="1219.14" y="1284.20" font-size="34" textLength="71.94" lengthAdjust="spacingAndGlyphs" fill="#109a50" stroke="#109a50" stroke-width="0.45">DMS</text>
<text transform="translate(84.50,1525.40) rotate(-90)" x="-2.80" y="0" font-size="34" textLength="244.48" lengthAdjust="spacingAndGlyphs" fill="#1e1e1e" stroke="#1e1e1e" stroke-width="0.45">Encoding model</text>
<text transform="translate(121.50,1480.00) rotate(-90)" x="-2.13" y="0" font-size="34" textLength="143.06" lengthAdjust="spacingAndGlyphs" fill="#1e1e1e" stroke="#1e1e1e" stroke-width="0.45">pseudo-R</text>
<text transform="translate(108.60,1338.00) rotate(-90)" x="-0.99" y="0" font-size="19.5" textLength="10.99" lengthAdjust="spacingAndGlyphs" fill="#1e1e1e" stroke="#1e1e1e" stroke-width="0.3">2</text>
<text transform="translate(209.20,1659.80) rotate(-45)" x="-0.06" y="0" font-size="35" textLength="35.73" lengthAdjust="spacingAndGlyphs" fill="#1e1e1e" stroke="#1e1e1e" stroke-width="0.45">All</text>
<text transform="translate(159.00,1784.00) rotate(-45)" x="-1.49" y="0" font-size="35" textLength="232.57" lengthAdjust="spacingAndGlyphs" fill="#1e1e1e" stroke="#1e1e1e" stroke-width="0.45">contra forelimb</text>
<text transform="translate(292.25,1753.75) rotate(-45)" x="-2.38" y="0" font-size="35" textLength="189.99" lengthAdjust="spacingAndGlyphs" fill="#1e1e1e" stroke="#1e1e1e" stroke-width="0.45">ipsi forelimb</text>
<text transform="translate(376.90,1775.10) rotate(-45)" x="-2.29" y="0" font-size="35" textLength="223.63" lengthAdjust="spacingAndGlyphs" fill="#1e1e1e" stroke="#1e1e1e" stroke-width="0.45">both forelimbs</text>
<text transform="translate(569.35,1675.95) rotate(-45)" x="-2.35" y="0" font-size="35" textLength="75.31" lengthAdjust="spacingAndGlyphs" fill="#1e1e1e" stroke="#1e1e1e" stroke-width="0.45">head</text>
<text transform="translate(834.20,1659.80) rotate(-45)" x="-0.06" y="0" font-size="35" textLength="35.73" lengthAdjust="spacingAndGlyphs" fill="#1e1e1e" stroke="#1e1e1e" stroke-width="0.45">All</text>
<text transform="translate(784.00,1784.00) rotate(-45)" x="-1.49" y="0" font-size="35" textLength="232.57" lengthAdjust="spacingAndGlyphs" fill="#1e1e1e" stroke="#1e1e1e" stroke-width="0.45">contra forelimb</text>
<text transform="translate(917.25,1753.75) rotate(-45)" x="-2.38" y="0" font-size="35" textLength="189.99" lengthAdjust="spacingAndGlyphs" fill="#1e1e1e" stroke="#1e1e1e" stroke-width="0.45">ipsi forelimb</text>
<text transform="translate(1001.90,1775.10) rotate(-45)" x="-2.29" y="0" font-size="35" textLength="223.63" lengthAdjust="spacingAndGlyphs" fill="#1e1e1e" stroke="#1e1e1e" stroke-width="0.45">both forelimbs</text>
<text transform="translate(1194.35,1675.95) rotate(-45)" x="-2.35" y="0" font-size="35" textLength="75.31" lengthAdjust="spacingAndGlyphs" fill="#1e1e1e" stroke="#1e1e1e" stroke-width="0.45">head</text>
</svg>
</body></html>
